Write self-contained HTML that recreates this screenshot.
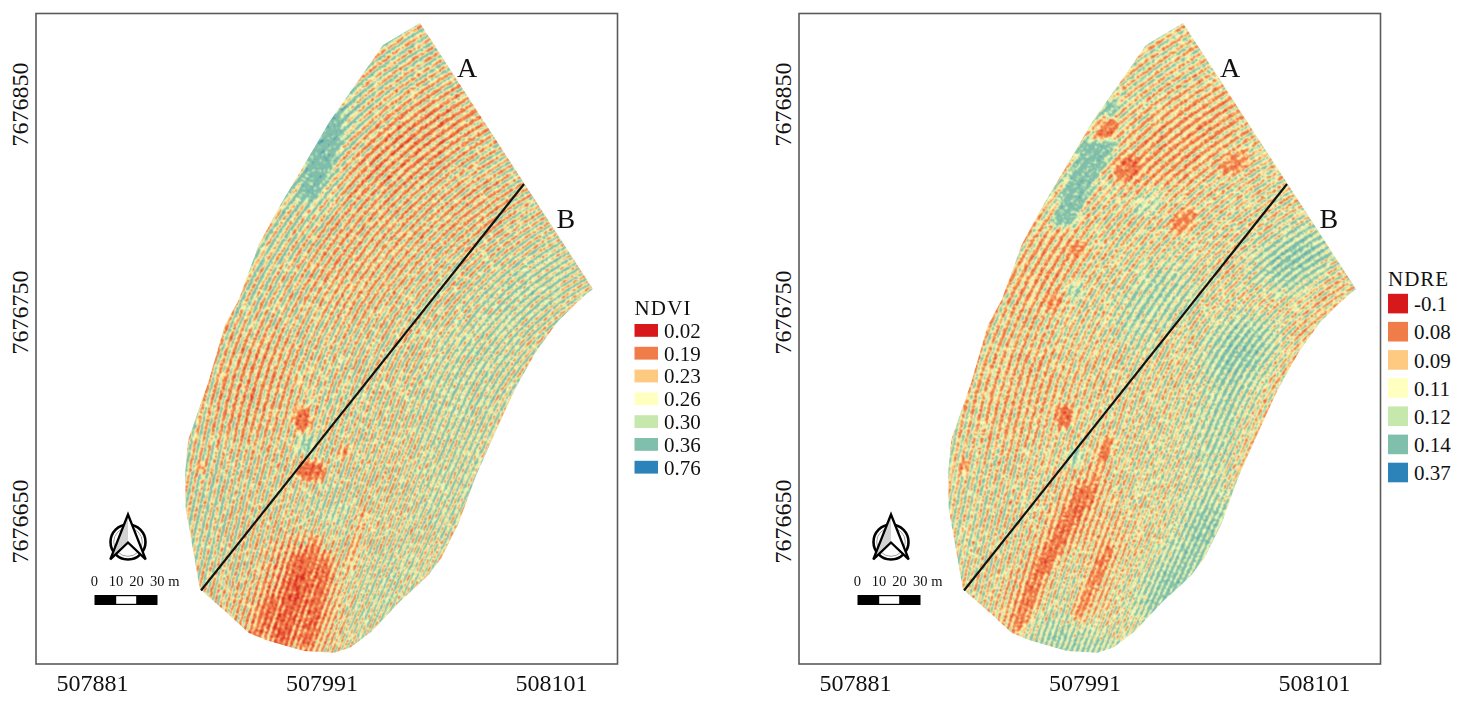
<!DOCTYPE html>
<html><head><meta charset="utf-8"><style>
html,body{margin:0;padding:0;background:#fff;width:1458px;height:701px;overflow:hidden}
svg{display:block}
text{font-family:"Liberation Serif",serif;fill:#111}
</style></head><body>
<svg width="1458" height="701" viewBox="0 0 1458 701">
<defs>
<path id="sd0" d="M942.4,461.6 938.5,448.2 933.7,435.0 928.1,422.2 921.8,409.7 914.7,397.6 906.9,386.0 898.4,374.9 889.3,364.3 879.5,354.3 869.1,344.9 858.2,336.2 846.7,328.1 834.8,320.7 822.5,314.1 809.8,308.3 796.7,303.2 783.4,298.9 769.8,295.5 756.1,292.9 742.2,291.1 728.2,290.2 714.2,290.1 700.2,290.9 686.3,292.5 672.6,295.0 659.0,298.3 645.6,302.4 632.5,307.3 619.7,313.1 607.3,319.5 595.3,326.8 583.8,334.7 572.8,343.3 562.3,352.6 552.4,362.5 543.1,373.0 534.5,384.1 526.6,395.6 519.4,407.6 512.9,420.0 495.5,456.0 478.1,492.0 460.7,528.1 443.3,564.1 425.9,600.1 408.5,636.1 391.2,672.1 373.8,708.2 356.4,744.2 339.0,780.2 321.6,816.2M943.7,445.1 938.9,432.0 933.3,419.2 926.9,406.7 919.8,394.6 912.0,383.0 903.6,371.9 894.5,361.2 884.8,351.2 874.4,341.7 863.6,332.8 852.2,324.7 840.4,317.2 828.2,310.4 815.6,304.3 802.6,299.0 789.3,294.5 775.9,290.8 762.2,287.9 748.3,285.8 734.4,284.5 720.4,284.1 706.4,284.5 692.4,285.7 678.6,287.8 664.9,290.6 651.4,294.3 638.1,298.8 625.1,304.0 612.5,310.0 600.2,316.8 588.4,324.2 577.0,332.4 566.1,341.2 555.8,350.6 546.0,360.7 536.9,371.3 528.4,382.4 520.6,394.0 513.5,406.0 507.1,418.5 489.8,454.6 472.6,490.7 455.4,526.8 438.2,562.9 421.0,599.0 403.8,635.1 386.6,671.2 369.4,707.3 352.1,743.4 334.9,779.6 317.7,815.7M944.0,428.8 938.4,416.0 932.0,403.6 924.9,391.5 917.1,379.9 908.7,368.7 899.6,358.0 890.0,347.9 879.7,338.4 868.9,329.4 857.7,321.1 845.9,313.5 833.8,306.6 821.2,300.3 808.4,294.8 795.2,290.1 781.8,286.1 768.1,283.0 754.3,280.6 740.4,279.0 726.4,278.2 712.5,278.2 698.5,279.1 684.6,280.7 670.8,283.2 657.2,286.4 643.8,290.5 630.6,295.3 617.8,300.8 605.3,307.1 593.1,314.1 581.4,321.8 570.2,330.1 559.5,339.1 549.3,348.7 539.6,358.8 530.6,369.5 522.2,380.8 514.5,392.4 507.5,404.5 501.1,417.0 484.1,453.2 467.1,489.4 450.1,525.6 433.0,561.8 416.0,598.0 399.0,634.2 381.9,670.4 364.9,706.6 347.9,742.8 330.8,779.0 313.8,815.1M943.5,412.7 937.0,400.3 929.9,388.2 922.2,376.6 913.7,365.4 904.7,354.7 895.1,344.5 884.9,334.9 874.2,325.9 863.0,317.5 851.3,309.8 839.2,302.7 826.8,296.3 814.0,290.6 800.9,285.7 787.5,281.5 774.0,278.1 760.2,275.4 746.4,273.5 732.4,272.4 718.4,272.1 704.4,272.6 690.5,273.9 676.6,275.9 662.9,278.8 649.4,282.4 636.1,286.8 623.1,291.9 610.3,297.7 598.0,304.2 586.0,311.5 574.4,319.4 563.3,327.9 552.7,337.1 542.7,346.8 533.2,357.1 524.3,367.9 516.0,379.2 508.4,390.9 501.4,403.1 495.2,415.6 478.3,451.9 461.5,488.2 444.6,524.4 427.8,560.7 410.9,597.0 394.1,633.3 377.3,669.6 360.4,705.8 343.6,742.1 326.7,778.4 309.9,814.7M942.0,396.8 934.9,384.8 927.1,373.1 918.7,361.9 909.7,351.2 900.1,341.0 890.0,331.4 879.3,322.3 868.2,313.8 856.6,306.0 844.6,298.8 832.2,292.2 819.5,286.4 806.5,281.3 793.2,276.9 779.7,273.2 766.0,270.3 752.2,268.1 738.2,266.7 724.2,266.1 710.2,266.3 696.3,267.2 682.4,268.9 668.6,271.3 655.0,274.5 641.5,278.5 628.4,283.2 615.4,288.6 602.9,294.7 590.6,301.5 578.8,309.0 567.4,317.1 556.4,325.8 546.0,335.1 536.0,345.0 526.7,355.4 517.9,366.3 509.7,377.7 502.2,389.5 495.3,401.7 489.2,414.2 472.5,450.6 455.8,487.0 439.2,523.3 422.5,559.7 405.8,596.1 389.2,632.4 372.5,668.8 355.9,705.1 339.2,741.5 322.5,777.9 305.9,814.2M939.8,381.2 932.1,369.6 923.6,358.4 914.7,347.6 905.1,337.4 895.0,327.7 884.4,318.6 873.3,310.0 861.8,302.1 849.9,294.8 837.5,288.1 824.9,282.1 811.9,276.8 798.7,272.2 785.3,268.3 771.6,265.2 757.8,262.8 743.9,261.1 730.0,260.2 716.0,260.0 702.0,260.6 688.1,262.0 674.2,264.1 660.5,266.9 647.0,270.5 633.6,274.8 620.6,279.8 607.8,285.5 595.3,291.8 583.2,298.9 571.5,306.6 560.2,314.9 549.4,323.8 539.1,333.2 529.3,343.2 520.1,353.7 511.4,364.7 503.4,376.2 496.0,388.1 489.2,400.3 483.1,412.9 466.6,449.4 450.1,485.8 433.7,522.3 417.2,558.7 400.7,595.2 384.2,631.6 367.8,668.1 351.3,704.5 334.8,741.0 318.3,777.4 301.8,813.9M936.9,365.8 928.5,354.6 919.5,343.9 910.0,333.7 899.9,323.9 889.4,314.7 878.3,306.1 866.9,298.1 855.0,290.7 842.8,283.9 830.2,277.8 817.3,272.3 804.1,267.5 790.7,263.5 777.1,260.1 763.4,257.4 749.5,255.5 735.6,254.3 721.6,253.9 707.6,254.2 693.6,255.2 679.7,256.9 666.0,259.4 652.3,262.6 638.9,266.5 625.7,271.2 612.7,276.5 600.1,282.4 587.7,289.1 575.8,296.3 564.2,304.2 553.1,312.7 542.4,321.8 532.2,331.4 522.6,341.5 513.5,352.2 504.9,363.3 497.0,374.8 489.7,386.7 483.0,399.0 476.9,411.6 460.7,448.2 444.4,484.7 428.1,521.2 411.8,557.8 395.5,594.3 379.2,630.8 362.9,667.4 346.6,703.9 330.4,740.4 314.1,777.0 297.8,813.5M933.3,350.8 924.3,340.0 914.8,329.8 904.8,320.0 894.2,310.8 883.3,302.1 871.8,294.0 860.0,286.5 847.8,279.6 835.3,273.3 822.5,267.7 809.4,262.8 796.1,258.6 782.5,255.0 768.8,252.1 755.0,250.0 741.1,248.5 727.1,247.8 713.1,247.8 699.1,248.5 685.2,250.0 671.3,252.1 657.6,255.0 644.1,258.5 630.8,262.8 617.7,267.7 604.8,273.3 592.3,279.5 580.1,286.4 568.3,293.9 556.9,302.0 545.9,310.7 535.3,319.9 525.3,329.7 515.8,339.9 506.8,350.7 498.4,361.8 490.5,373.4 483.3,385.4 476.7,397.8 470.7,410.4 454.6,447.0 438.5,483.7 422.5,520.3 406.4,556.9 390.3,593.5 374.2,630.1 358.1,666.8 342.0,703.4 325.9,740.0 309.8,776.6 293.7,813.2M929.0,336.0 919.5,325.8 909.5,316.0 899.0,306.7 888.1,298.0 876.7,289.8 865.0,282.2 852.8,275.2 840.4,268.9 827.6,263.1 814.5,258.1 801.3,253.6 787.8,249.9 774.1,246.8 760.3,244.5 746.4,242.8 732.5,241.8 718.5,241.5 704.5,242.0 690.5,243.1 676.6,244.9 662.9,247.5 649.2,250.7 635.8,254.6 622.6,259.1 609.6,264.4 596.9,270.2 584.5,276.7 572.4,283.9 560.7,291.6 549.5,299.9 538.6,308.7 528.2,318.1 518.3,328.0 508.9,338.4 500.1,349.2 491.8,360.5 484.0,372.1 476.9,384.2 470.4,396.6 464.5,409.3 448.6,446.0 432.7,482.7 416.8,519.4 400.9,556.1 385.0,592.8 369.1,629.5 353.2,666.2 337.2,702.9 321.3,739.6 305.4,776.3 289.5,813.0M924.2,321.6 914.2,311.8 903.7,302.5 892.8,293.7 881.5,285.5 869.8,277.9 857.7,270.8 845.3,264.3 832.6,258.5 819.6,253.3 806.3,248.7 792.9,244.8 779.3,241.5 765.5,239.0 751.6,237.1 737.7,235.8 723.7,235.3 709.7,235.5 695.7,236.3 681.8,237.9 668.0,240.1 654.3,243.0 640.8,246.5 627.4,250.8 614.3,255.6 601.4,261.2 588.9,267.3 576.6,274.0 564.7,281.4 553.1,289.3 542.0,297.8 531.3,306.8 521.0,316.3 511.3,326.4 502.0,336.9 493.3,347.8 485.1,359.2 477.5,370.9 470.4,383.0 464.0,395.4 458.2,408.2 442.5,444.9 426.8,481.7 411.0,518.5 395.3,555.3 379.6,592.1 363.9,628.9 348.2,665.7 332.5,702.4 316.8,739.2 301.1,776.0 285.3,812.8M918.8,307.5 908.3,298.2 897.5,289.4 886.2,281.1 874.5,273.4 862.4,266.3 850.1,259.7 837.4,253.8 824.5,248.4 811.3,243.7 797.9,239.6 784.3,236.2 770.6,233.5 756.8,231.3 742.8,229.9 728.9,229.2 714.9,229.1 700.9,229.6 686.9,230.9 673.1,232.8 659.3,235.4 645.7,238.7 632.2,242.6 619.0,247.1 606.0,252.3 593.2,258.1 580.8,264.5 568.7,271.5 556.9,279.0 545.5,287.2 534.5,295.8 523.9,305.0 513.8,314.7 504.2,324.8 495.0,335.4 486.4,346.5 478.3,357.9 470.8,369.7 463.9,381.9 457.5,394.3 451.8,407.1 436.3,444.0 420.8,480.9 405.3,517.7 389.7,554.6 374.2,591.5 358.7,628.3 343.2,665.2 327.7,702.1 312.1,738.9 296.6,775.8 281.1,812.7M912.9,293.8 902.0,284.9 890.7,276.6 879.1,268.9 867.1,261.6 854.8,255.0 842.1,249.0 829.2,243.5 816.1,238.7 802.8,234.5 789.2,230.9 775.5,227.9 761.7,225.6 747.8,224.0 733.9,223.0 719.9,222.7 705.9,223.0 691.9,224.0 678.0,225.7 664.2,228.0 650.5,230.9 637.0,234.5 623.6,238.8 610.5,243.6 597.6,249.1 585.0,255.1 572.7,261.8 560.7,269.0 549.0,276.8 537.8,285.1 526.9,293.9 516.5,303.3 506.5,313.1 497.0,323.4 488.0,334.1 479.5,345.2 471.6,356.7 464.1,368.6 457.3,380.8 451.0,393.3 445.4,406.1 430.1,443.1 414.7,480.0 399.4,517.0 384.1,553.9 368.8,590.9 353.5,627.8 338.1,664.8 322.8,701.7 307.5,738.7 292.2,775.6 276.8,812.6M906.4,280.3 895.2,272.0 883.6,264.2 871.6,256.9 859.3,250.2 846.8,244.1 833.9,238.5 820.8,233.6 807.5,229.2 794.0,225.5 780.4,222.4 766.6,219.9 752.7,218.1 738.7,216.9 724.8,216.4 710.8,216.5 696.8,217.2 682.9,218.6 669.0,220.7 655.3,223.3 641.7,226.6 628.2,230.6 615.0,235.1 602.0,240.2 589.2,246.0 576.7,252.3 564.5,259.2 552.7,266.6 541.2,274.6 530.0,283.1 519.3,292.1 509.0,301.6 499.2,311.6 489.8,322.0 480.9,332.8 472.6,344.0 464.7,355.6 457.4,367.5 450.7,379.8 444.5,392.4 438.9,405.2 423.8,442.2 408.6,479.3 393.5,516.3 378.4,553.3 363.3,590.4 348.2,627.4 333.0,664.4 317.9,701.4 302.8,738.5 287.7,775.5 272.5,812.5M899.6,267.3 888.0,259.4 876.0,252.1 863.8,245.3 851.2,239.1 838.4,233.5 825.4,228.4 812.1,224.0 798.7,220.1 785.0,216.9 771.3,214.2 757.4,212.2 743.5,210.9 729.5,210.1 715.5,210.0 701.5,210.5 687.6,211.7 673.7,213.4 659.9,215.8 646.2,218.9 632.7,222.5 619.4,226.7 606.2,231.6 593.3,237.0 580.7,243.0 568.3,249.6 556.3,256.7 544.6,264.4 533.2,272.5 522.2,281.2 511.6,290.4 501.5,300.0 491.8,310.1 482.5,320.6 473.8,331.6 465.5,342.9 457.8,354.5 450.6,366.5 443.9,378.9 437.9,391.5 432.3,404.3 417.4,441.4 402.5,478.6 387.6,515.7 372.7,552.8 357.7,589.9 342.8,627.0 327.9,664.1 313.0,701.2 298.0,738.3 283.1,775.5 268.2,812.6M892.3,254.5 880.4,247.2 868.1,240.3 855.6,234.1 842.8,228.3 829.8,223.2 816.6,218.6 803.2,214.7 789.6,211.3 775.9,208.5 762.0,206.3 748.1,204.8 734.2,203.8 720.2,203.5 706.2,203.8 692.2,204.8 678.3,206.3 664.4,208.4 650.7,211.2 637.1,214.6 623.7,218.5 610.5,223.1 597.5,228.2 584.7,233.9 572.1,240.2 559.9,247.0 548.0,254.3 536.4,262.2 525.2,270.6 514.4,279.4 503.9,288.8 493.9,298.6 484.3,308.8 475.2,319.4 466.6,330.4 458.5,341.8 450.8,353.5 443.7,365.6 437.2,378.0 431.2,390.6 425.7,403.5 411.0,440.7 396.3,477.9 381.6,515.1 366.9,552.3 352.1,589.5 337.4,626.7 322.7,663.9 308.0,701.1 293.2,738.3 278.5,775.5 263.8,812.6M884.6,242.1 872.4,235.3 859.9,228.9 847.1,223.1 834.1,217.9 820.9,213.2 807.6,209.1 794.0,205.6 780.3,202.7 766.5,200.4 752.6,198.7 738.7,197.6 724.7,197.1 710.7,197.2 696.7,197.9 682.8,199.2 668.9,201.1 655.1,203.6 641.5,206.7 628.0,210.4 614.6,214.7 601.5,219.6 588.6,225.0 575.9,231.0 563.5,237.5 551.4,244.5 539.7,252.1 528.2,260.2 517.1,268.7 506.4,277.7 496.1,287.2 486.3,297.1 476.8,307.5 467.9,318.2 459.3,329.3 451.3,340.8 443.8,352.6 436.8,364.8 430.4,377.2 424.4,389.9 419.1,402.8 404.6,440.1 390.0,477.3 375.5,514.6 361.0,551.9 346.5,589.1 332.0,626.4 317.4,663.7 302.9,701.0 288.4,738.2 273.9,775.5 259.4,812.8M876.5,230.1 864.0,223.7 851.3,217.8 838.3,212.5 825.2,207.8 811.8,203.6 798.3,200.0 784.6,196.9 770.8,194.5 757.0,192.6 743.0,191.3 729.0,190.7 715.0,190.6 701.1,191.1 687.1,192.2 673.2,193.9 659.4,196.2 645.7,199.0 632.1,202.5 618.7,206.5 605.5,211.1 592.5,216.2 579.7,221.9 567.1,228.1 554.9,234.9 542.9,242.2 531.3,249.9 520.0,258.2 509.0,266.9 498.5,276.1 488.3,285.8 478.6,295.8 469.3,306.3 460.4,317.1 452.0,328.3 444.1,339.9 436.7,351.8 429.8,364.0 423.5,376.4 417.6,389.1 412.4,402.1 398.0,439.5 383.7,476.8 369.4,514.2 355.1,551.5 340.8,588.9 326.5,626.2 312.2,663.6 297.8,700.9 283.5,738.3 269.2,775.6 254.9,813.0"/><path id="sl0" d="M941.6,468.2 938.0,454.7 933.6,441.4 928.4,428.5 922.4,415.8 915.6,403.6 908.1,391.8 899.8,380.5 890.9,369.7 881.3,359.4 871.2,349.8 860.4,340.9 849.1,332.6 837.4,325.0 825.2,318.1 812.6,312.1 799.6,306.8 786.3,302.3 772.8,298.6 759.1,295.8 745.3,293.8 731.3,292.7 717.3,292.4 703.3,293.0 689.4,294.5 675.6,296.8 662.0,299.9 648.5,303.9 635.4,308.7 622.6,314.3 610.1,320.7 598.1,327.8 586.5,335.7 575.4,344.2 564.9,353.4 554.9,363.3 545.6,373.7 536.9,384.7 529.0,396.2 521.7,408.2 515.2,420.6 497.8,456.6 480.3,492.6 462.8,528.6 445.4,564.6 427.9,600.5 410.4,636.5 393.0,672.5 375.5,708.5 358.0,744.5 340.6,780.5 323.1,816.5M943.3,451.7 938.8,438.5 933.6,425.5 927.5,412.9 920.7,400.6 913.2,388.8 905.0,377.5 896.1,366.7 886.6,356.4 876.5,346.7 865.9,337.6 854.7,329.2 843.0,321.5 830.9,314.5 818.4,308.2 805.5,302.7 792.3,298.0 778.9,294.0 765.2,290.9 751.4,288.6 737.5,287.1 723.5,286.5 709.5,286.7 695.6,287.8 681.7,289.6 668.0,292.3 654.4,295.9 641.1,300.2 628.1,305.3 615.4,311.2 603.1,317.9 591.2,325.2 579.7,333.3 568.8,342.0 558.4,351.4 548.6,361.4 539.4,372.0 530.9,383.0 523.0,394.6 515.8,406.6 509.4,419.1 492.1,455.2 474.8,491.2 457.5,527.3 440.3,563.4 423.0,599.4 405.7,635.5 388.4,671.6 371.1,707.7 353.8,743.7 336.6,779.8 319.3,815.9M944.0,435.3 938.7,422.4 932.6,409.8 925.8,397.5 918.3,385.7 910.1,374.4 901.3,363.5 891.8,353.2 881.8,343.4 871.2,334.3 860.1,325.8 848.5,317.9 836.5,310.8 824.0,304.3 811.3,298.6 798.2,293.6 784.8,289.5 771.2,286.1 757.5,283.5 743.6,281.7 729.6,280.7 715.6,280.6 701.7,281.2 687.7,282.7 673.9,285.0 660.3,288.1 646.8,292.0 633.6,296.6 620.7,302.1 608.2,308.2 596.0,315.1 584.2,322.7 572.9,331.0 562.1,339.9 551.9,349.4 542.2,359.6 533.1,370.2 524.7,381.4 516.9,393.0 509.9,405.1 503.5,417.6 486.4,453.8 469.3,489.9 452.2,526.1 435.1,562.2 418.0,598.4 400.9,634.6 383.8,670.7 366.7,706.9 349.6,743.0 332.5,779.2 315.4,815.3M943.8,419.1 937.7,406.5 930.9,394.3 923.3,382.5 915.2,371.1 906.4,360.2 897.0,349.9 887.0,340.1 876.5,330.8 865.4,322.2 853.9,314.3 842.0,307.0 829.6,300.4 816.9,294.5 803.9,289.3 790.6,284.9 777.1,281.3 763.4,278.4 749.6,276.3 735.6,275.0 721.6,274.5 707.6,274.8 693.7,275.9 679.8,277.8 666.1,280.5 652.5,284.0 639.2,288.2 626.1,293.2 613.3,298.9 600.9,305.4 588.8,312.5 577.2,320.3 566.1,328.8 555.4,337.9 545.3,347.5 535.8,357.8 526.8,368.5 518.5,379.8 510.8,391.5 503.9,403.7 497.6,416.2 480.7,452.4 463.7,488.7 446.8,524.9 429.9,561.1 413.0,597.4 396.1,633.6 379.1,669.9 362.2,706.1 345.3,742.4 328.4,778.6 311.4,814.9M942.7,403.1 935.9,390.9 928.3,379.1 920.2,367.8 911.4,356.8 902.0,346.5 892.1,336.6 881.6,327.3 870.6,318.6 859.2,310.5 847.3,303.1 835.1,296.4 822.5,290.3 809.5,285.0 796.3,280.4 782.8,276.5 769.2,273.4 755.4,271.0 741.5,269.4 727.5,268.6 713.5,268.6 699.5,269.3 685.6,270.9 671.8,273.2 658.2,276.2 644.7,280.0 631.5,284.6 618.5,289.9 605.9,295.9 593.6,302.6 581.7,310.0 570.2,318.0 559.2,326.6 548.7,335.9 538.7,345.7 529.3,356.1 520.5,366.9 512.2,378.3 504.7,390.0 497.8,402.2 491.6,414.8 474.8,451.1 458.1,487.4 441.4,523.8 424.6,560.1 407.9,596.4 391.2,632.8 374.4,669.1 357.7,705.4 340.9,741.7 324.2,778.1 307.5,814.4M940.8,387.4 933.3,375.6 925.1,364.2 916.4,353.3 907.0,342.9 897.1,333.0 886.7,323.6 875.8,314.9 864.4,306.7 852.6,299.2 840.4,292.3 827.9,286.1 815.0,280.6 801.8,275.8 788.5,271.7 774.9,268.3 761.1,265.7 747.2,263.9 733.3,262.8 719.3,262.4 705.3,262.9 691.4,264.0 677.5,266.0 663.7,268.7 650.2,272.1 636.8,276.2 623.7,281.1 610.9,286.7 598.3,293.0 586.2,299.9 574.4,307.5 563.1,315.7 552.2,324.6 541.9,334.0 532.0,343.9 522.7,354.4 514.0,365.4 505.9,376.8 498.5,388.6 491.7,400.8 485.5,413.4 469.0,449.8 452.4,486.3 435.9,522.7 419.3,559.1 402.8,595.5 386.2,631.9 369.7,668.3 353.1,704.8 336.6,741.2 320.0,777.6 303.5,814.0M938.2,371.9 930.0,360.6 921.2,349.6 911.9,339.2 902.1,329.3 891.7,319.9 880.8,311.1 869.5,302.8 857.8,295.2 845.6,288.2 833.2,281.8 820.4,276.2 807.3,271.2 793.9,266.9 780.4,263.3 766.7,260.5 752.9,258.4 738.9,257.0 725.0,256.4 711.0,256.5 697.0,257.3 683.1,258.9 669.3,261.3 655.6,264.3 642.1,268.1 628.9,272.6 615.9,277.8 603.2,283.6 590.8,290.2 578.8,297.4 567.1,305.2 556.0,313.6 545.2,322.6 535.0,332.1 525.3,342.2 516.1,352.8 507.5,363.8 499.6,375.3 492.2,387.2 485.5,399.5 479.4,412.1 463.0,448.6 446.7,485.1 430.3,521.6 414.0,558.1 397.6,594.6 381.2,631.1 364.9,667.6 348.5,704.1 332.1,740.6 315.8,777.1 299.4,813.6M934.8,356.8 926.1,345.8 916.8,335.4 906.9,325.4 896.6,316.0 885.8,307.1 874.5,298.8 862.8,291.1 850.7,284.0 838.3,277.5 825.6,271.7 812.6,266.6 799.3,262.1 785.8,258.3 772.2,255.3 758.4,252.9 744.5,251.3 730.5,250.4 716.5,250.2 702.5,250.8 688.6,252.0 674.7,254.0 661.0,256.7 647.4,260.1 634.0,264.3 620.9,269.1 608.0,274.5 595.4,280.7 583.2,287.5 571.3,294.9 559.8,302.9 548.8,311.5 538.2,320.7 528.1,330.4 518.5,340.6 509.5,351.3 501.0,362.4 493.1,374.0 485.9,385.9 479.2,398.3 473.2,410.9 457.1,447.5 440.9,484.1 424.7,520.7 408.5,557.2 392.4,593.8 376.2,630.4 360.0,667.0 343.8,703.6 327.7,740.2 311.5,776.8 295.3,813.3M930.8,341.9 921.5,331.4 911.7,321.5 901.4,312.0 890.6,303.1 879.4,294.7 867.8,286.9 855.7,279.7 843.4,273.1 830.7,267.2 817.8,261.9 804.5,257.3 791.1,253.3 777.5,250.1 763.7,247.5 749.9,245.6 735.9,244.5 721.9,244.0 707.9,244.3 694.0,245.2 680.1,246.9 666.3,249.3 652.6,252.4 639.1,256.1 625.8,260.6 612.8,265.7 600.1,271.4 587.6,277.8 575.5,284.9 563.8,292.5 552.4,300.7 541.5,309.5 531.1,318.8 521.1,328.6 511.7,339.0 502.8,349.8 494.4,361.0 486.6,372.6 479.5,384.7 472.9,397.0 467.0,409.7 451.0,446.4 435.0,483.1 419.1,519.7 403.1,556.4 387.1,593.1 371.1,629.7 355.1,666.4 339.1,703.1 323.2,739.7 307.2,776.4 291.2,813.1M926.2,327.3 916.4,317.3 906.1,307.9 895.4,298.9 884.2,290.5 872.6,282.6 860.6,275.3 848.3,268.7 835.7,262.6 822.8,257.2 809.6,252.4 796.3,248.3 782.7,244.8 769.0,242.1 755.1,240.0 741.2,238.6 727.2,237.9 713.2,237.9 699.2,238.6 685.3,239.9 671.5,242.0 657.7,244.7 644.2,248.2 630.8,252.3 617.6,257.0 604.7,262.4 592.1,268.5 579.8,275.1 567.8,282.4 556.2,290.2 545.0,298.6 534.2,307.6 523.9,317.0 514.1,327.0 504.8,337.5 496.0,348.4 487.8,359.7 480.1,371.4 473.0,383.5 466.6,395.9 460.7,408.6 444.9,445.4 429.1,482.1 413.3,518.9 397.5,555.6 381.8,592.4 366.0,629.1 350.2,665.9 334.4,702.6 318.6,739.4 302.8,776.1 287.0,812.9M921.0,313.1 910.7,303.6 900.0,294.6 888.9,286.1 877.3,278.2 865.4,270.9 853.2,264.1 840.6,257.9 827.7,252.4 814.6,247.5 801.3,243.2 787.8,239.6 774.1,236.6 760.3,234.4 746.4,232.7 732.4,231.8 718.4,231.5 704.4,232.0 690.5,233.0 676.6,234.8 662.8,237.3 649.1,240.4 635.7,244.1 622.4,248.6 609.3,253.6 596.5,259.3 584.0,265.6 571.8,272.5 560.0,280.0 548.6,288.0 537.5,296.6 526.9,305.7 516.7,315.3 507.0,325.4 497.8,336.0 489.2,347.0 481.0,358.4 473.5,370.2 466.5,382.3 460.1,394.8 454.4,407.5 438.8,444.4 423.2,481.2 407.6,518.0 392.0,554.9 376.4,591.7 360.8,628.5 345.2,665.4 329.6,702.2 314.0,739.0 298.4,775.9 282.8,812.7M915.3,299.2 904.6,290.2 893.5,281.7 882.0,273.7 870.1,266.3 857.9,259.5 845.4,253.2 832.5,247.6 819.5,242.5 806.2,238.1 792.7,234.3 779.1,231.2 765.3,228.7 751.4,226.9 737.5,225.8 723.5,225.3 709.5,225.4 695.5,226.3 681.6,227.7 667.8,229.9 654.0,232.7 640.5,236.2 627.1,240.3 613.9,245.0 601.0,250.3 588.3,256.3 575.9,262.8 563.9,270.0 552.2,277.7 540.9,285.9 530.0,294.7 519.5,303.9 509.4,313.7 499.9,323.9 490.8,334.6 482.3,345.7 474.3,357.2 466.8,369.0 459.9,381.2 453.7,393.7 448.0,406.5 432.6,443.4 417.2,480.4 401.8,517.3 386.4,554.2 371.0,591.1 355.6,628.0 340.2,664.9 324.8,701.9 309.4,738.8 294.0,775.7 278.6,812.6M909.1,285.7 898.0,277.1 886.5,269.1 874.7,261.7 862.5,254.7 850.0,248.4 837.2,242.7 824.2,237.5 811.0,233.0 797.5,229.1 783.9,225.8 770.2,223.1 756.3,221.1 742.4,219.7 728.4,219.0 714.4,218.9 700.4,219.5 686.5,220.8 672.6,222.7 658.8,225.2 645.2,228.3 631.7,232.1 618.4,236.5 605.4,241.6 592.6,247.2 580.0,253.4 567.8,260.2 555.9,267.6 544.3,275.5 533.1,283.9 522.4,292.8 512.0,302.3 502.1,312.2 492.7,322.5 483.8,333.3 475.3,344.5 467.5,356.0 460.1,368.0 453.3,380.2 447.1,392.7 441.5,405.6 426.3,442.6 411.1,479.6 395.9,516.6 380.7,553.6 365.5,590.6 350.3,627.6 335.1,664.6 319.9,701.6 304.7,738.6 289.5,775.6 274.3,812.5M902.4,272.4 890.9,264.4 879.1,256.9 867.0,249.9 854.5,243.5 841.8,237.7 828.8,232.4 815.6,227.8 802.2,223.7 788.6,220.3 774.9,217.5 761.1,215.3 747.2,213.7 733.2,212.8 719.2,212.5 705.2,212.9 691.3,213.9 677.4,215.5 663.6,217.7 649.9,220.6 636.3,224.1 622.9,228.2 609.7,233.0 596.8,238.3 584.1,244.2 571.7,250.7 559.6,257.7 547.8,265.3 536.4,273.4 525.4,282.0 514.7,291.1 504.5,300.7 494.8,310.7 485.5,321.2 476.7,332.0 468.4,343.3 460.6,355.0 453.3,366.9 446.6,379.2 440.5,391.8 435.0,404.7 420.0,441.8 405.0,478.8 390.0,515.9 375.0,553.0 360.0,590.1 345.0,627.2 329.9,664.2 314.9,701.3 299.9,738.4 284.9,775.5 269.9,812.6M895.2,259.6 883.5,252.0 871.3,245.0 858.9,238.5 846.2,232.6 833.3,227.3 820.1,222.5 806.8,218.3 793.2,214.8 779.6,211.8 765.8,209.5 751.9,207.7 737.9,206.6 723.9,206.1 709.9,206.3 695.9,207.0 682.0,208.4 668.2,210.4 654.4,213.0 640.8,216.3 627.3,220.1 614.0,224.5 601.0,229.5 588.1,235.1 575.6,241.3 563.3,248.0 551.3,255.3 539.7,263.1 528.4,271.4 517.5,280.1 507.0,289.4 497.0,299.1 487.3,309.3 478.2,319.9 469.5,330.9 461.3,342.2 453.6,353.9 446.5,366.0 439.9,378.3 433.9,391.0 428.4,403.8 413.6,441.0 398.8,478.2 384.0,515.3 369.2,552.5 354.4,589.6 339.6,626.8 324.8,664.0 310.0,701.1 295.2,738.3 280.4,775.4 265.6,812.6M887.7,247.0 875.6,240.0 863.2,233.4 850.6,227.5 837.7,222.0 824.5,217.2 811.2,212.9 797.7,209.2 784.0,206.1 770.3,203.6 756.4,201.7 742.5,200.4 728.5,199.8 714.5,199.7 700.5,200.2 686.5,201.4 672.7,203.2 658.9,205.5 645.2,208.5 631.6,212.1 618.3,216.2 605.1,221.0 592.1,226.3 579.4,232.1 567.0,238.5 554.8,245.5 543.0,253.0 531.5,261.0 520.4,269.4 509.6,278.4 499.3,287.8 489.3,297.7 479.8,308.0 470.8,318.7 462.3,329.8 454.2,341.2 446.6,353.0 439.6,365.1 433.1,377.5 427.1,390.2 421.7,403.1 407.1,440.3 392.5,477.6 377.9,514.8 363.3,552.0 348.8,589.3 334.2,626.5 319.6,663.8 305.0,701.0 290.4,738.2 275.8,775.5 261.2,812.7M879.8,234.8 867.4,228.3 854.8,222.2 841.9,216.7 828.8,211.8 815.5,207.4 802.0,203.6 788.4,200.4 774.7,197.8 760.8,195.7 746.9,194.3 732.9,193.4 718.9,193.2 704.9,193.5 690.9,194.4 677.0,196.0 663.2,198.1 649.5,200.9 635.9,204.2 622.4,208.1 609.2,212.5 596.1,217.5 583.3,223.1 570.7,229.3 558.4,235.9 546.3,243.1 534.6,250.8 523.3,259.0 512.3,267.6 501.7,276.8 491.5,286.3 481.7,296.3 472.3,306.7 463.4,317.6 455.0,328.7 447.0,340.2 439.6,352.1 432.6,364.3 426.2,376.7 420.4,389.4 415.0,402.4 400.7,439.7 386.3,477.0 371.9,514.3 357.5,551.7 343.1,589.0 328.7,626.3 314.3,663.6 299.9,700.9 285.5,738.3 271.1,775.6 256.7,812.9"/><path id="sd1" d="M868.0,218.3 855.3,212.4 842.4,207.1 829.3,202.2 815.9,198.0 802.4,194.3 788.8,191.1 775.0,188.5 761.2,186.5 747.3,185.1 733.3,184.2 719.3,184.0 705.3,184.3 691.3,185.2 677.4,186.7 663.6,188.8 649.8,191.4 636.2,194.6 622.7,198.4 609.4,202.7 596.3,207.6 583.4,213.0 570.7,219.0 558.3,225.5 546.2,232.4 534.3,239.9 522.8,247.9 511.7,256.4 500.9,265.3 490.4,274.6 480.4,284.4 470.8,294.6 461.6,305.1 452.9,316.1 444.7,327.4 436.9,339.0 429.6,351.0 422.8,363.2 416.5,375.7 410.8,388.5 405.6,401.5 391.5,438.9 377.4,476.4 363.3,513.8 349.1,551.2 335.0,588.7 320.9,626.1 306.8,663.5 292.7,700.9 278.6,738.4 264.5,775.8 250.4,813.2M859.3,207.0 846.3,201.5 833.2,196.6 819.9,192.3 806.5,188.5 792.8,185.2 779.1,182.5 765.3,180.4 751.4,178.8 737.4,177.8 723.4,177.4 709.4,177.6 695.4,178.3 681.5,179.6 667.6,181.4 653.8,183.8 640.1,186.8 626.6,190.4 613.2,194.5 600.0,199.1 587.0,204.3 574.2,210.0 561.7,216.2 549.4,222.9 537.4,230.1 525.7,237.8 514.3,246.0 503.3,254.6 492.6,263.7 482.4,273.2 472.5,283.1 463.0,293.4 454.0,304.1 445.4,315.2 437.2,326.5 429.6,338.3 422.4,350.3 415.7,362.6 409.5,375.1 403.9,387.9 398.7,401.0 384.8,438.5 370.9,476.0 357.0,513.5 343.1,551.0 329.2,588.5 315.3,626.0 301.4,663.5 287.6,701.0 273.7,738.5 259.8,776.0 245.9,813.6M850.2,195.9 837.1,191.0 823.8,186.5 810.3,182.6 796.7,179.3 783.0,176.5 769.2,174.2 755.3,172.5 741.4,171.4 727.4,170.8 713.4,170.8 699.4,171.4 685.4,172.5 671.5,174.1 657.7,176.4 644.0,179.1 630.4,182.4 616.9,186.3 603.6,190.7 590.5,195.6 577.6,201.1 565.0,207.0 552.6,213.5 540.4,220.5 528.6,227.9 517.0,235.8 505.8,244.2 494.9,253.0 484.4,262.2 474.2,271.9 464.5,281.9 455.1,292.3 446.2,303.1 437.8,314.3 429.7,325.8 422.2,337.5 415.1,349.6 408.5,362.0 402.5,374.6 396.9,387.4 391.8,400.5 378.1,438.1 364.5,475.7 350.8,513.2 337.1,550.8 323.4,588.4 309.7,626.0 296.0,663.6 282.3,701.2 268.6,738.8 255.0,776.3 241.3,813.9M840.8,185.2 827.5,180.7 814.1,176.7 800.5,173.3 786.8,170.4 773.0,168.0 759.1,166.2 745.2,165.0 731.2,164.3 717.2,164.1 703.2,164.5 689.3,165.4 675.3,166.9 661.5,168.9 647.7,171.5 634.1,174.6 620.6,178.2 607.2,182.4 594.0,187.1 581.0,192.3 568.2,198.1 555.7,204.3 543.4,211.0 531.4,218.2 519.7,225.8 508.3,233.9 497.2,242.5 486.4,251.4 476.0,260.8 466.0,270.6 456.4,280.8 447.2,291.4 438.4,302.3 430.1,313.5 422.2,325.1 414.8,336.9 407.8,349.1 401.3,361.5 395.3,374.1 389.9,387.0 384.9,400.1 371.4,437.8 357.9,475.4 344.5,513.1 331.0,550.7 317.5,588.4 304.0,626.1 290.6,663.7 277.1,701.4 263.6,739.0 250.1,776.7 236.6,814.4M831.1,174.8 817.7,170.8 804.1,167.2 790.5,164.3 776.7,161.8 762.8,159.9 748.9,158.5 734.9,157.7 720.9,157.4 706.9,157.6 692.9,158.4 679.0,159.7 665.1,161.5 651.3,163.9 637.6,166.8 624.1,170.3 610.6,174.2 597.4,178.7 584.3,183.7 571.4,189.2 558.8,195.2 546.3,201.6 534.2,208.6 522.3,216.0 510.7,223.8 499.4,232.1 488.5,240.9 477.9,250.0 467.7,259.5 457.8,269.5 448.3,279.8 439.2,290.5 430.6,301.5 422.4,312.8 414.6,324.4 407.3,336.4 400.4,348.6 394.1,361.0 388.2,373.7 382.8,386.6 377.9,399.8 364.6,437.5 351.3,475.2 338.1,513.0 324.8,550.7 311.6,588.5 298.3,626.2 285.0,663.9 271.8,701.7 258.5,739.4 245.2,777.1 232.0,814.9M821.2,164.7 807.6,161.1 794.0,158.1 780.2,155.5 766.3,153.5 752.4,152.0 738.5,151.1 724.5,150.6 710.5,150.7 696.5,151.3 682.5,152.5 668.6,154.2 654.8,156.4 641.1,159.1 627.5,162.4 614.0,166.1 600.6,170.4 587.5,175.2 574.5,180.4 561.8,186.2 549.2,192.4 536.9,199.1 524.9,206.3 513.2,213.9 501.7,222.0 490.6,230.5 479.8,239.4 469.3,248.7 459.2,258.4 449.5,268.4 440.1,278.9 431.2,289.6 422.7,300.7 414.6,312.2 406.9,323.9 399.7,335.9 393.0,348.2 386.7,360.7 380.9,373.4 375.6,386.4 370.8,399.5 357.7,437.3 344.7,475.1 331.7,513.0 318.6,550.8 305.6,588.6 292.5,626.4 279.5,664.2 266.4,702.0 253.4,739.8 240.3,777.6 227.3,815.5M811.0,154.9 797.3,151.8 783.6,149.2 769.7,147.1 755.8,145.5 741.9,144.4 727.9,143.9 713.9,143.8 699.9,144.3 685.9,145.3 672.0,146.9 658.2,148.9 644.4,151.5 630.7,154.5 617.2,158.1 603.8,162.2 590.6,166.7 577.5,171.8 564.7,177.3 552.0,183.4 539.6,189.8 527.5,196.8 515.6,204.2 504.0,212.0 492.7,220.2 481.7,228.9 471.0,238.0 460.7,247.4 450.7,257.3 441.1,267.5 431.9,278.0 423.1,288.9 414.7,300.1 406.8,311.6 399.2,323.4 392.1,335.5 385.5,347.8 379.3,360.4 373.6,373.2 368.4,386.2 363.7,399.3 350.8,437.2 338.0,475.1 325.2,513.0 312.3,550.9 299.5,588.8 286.7,626.7 273.9,664.5 261.0,702.4 248.2,740.3 235.4,778.2 222.5,816.1M800.5,145.5 786.8,142.8 773.0,140.6 759.1,138.9 745.1,137.8 731.1,137.1 717.1,136.9 703.2,137.3 689.2,138.2 675.2,139.6 661.4,141.5 647.6,143.8 633.9,146.7 620.3,150.1 606.9,154.0 593.6,158.4 580.4,163.3 567.5,168.6 554.8,174.4 542.2,180.7 530.0,187.4 517.9,194.6 506.2,202.2 494.7,210.2 483.5,218.6 472.7,227.5 462.2,236.7 452.0,246.3 442.2,256.3 432.7,266.6 423.6,277.3 415.0,288.3 406.7,299.6 398.9,311.2 391.4,323.1 384.5,335.2 377.9,347.6 371.9,360.2 366.3,373.0 361.1,386.0 356.5,399.2 343.9,437.2 331.3,475.2 318.6,513.1 306.0,551.1 293.4,589.0 280.8,627.0 268.2,665.0 255.6,702.9 243.0,740.9 230.4,778.8 217.8,816.8M789.9,136.4 776.1,134.1 762.2,132.3 748.2,131.1 734.3,130.3 720.3,130.0 706.3,130.3 692.3,131.0 678.3,132.3 664.5,134.0 650.6,136.3 636.9,139.0 623.3,142.2 609.8,145.9 596.4,150.1 583.2,154.8 570.2,160.0 557.4,165.6 544.8,171.6 532.4,178.1 520.2,185.1 508.3,192.5 496.7,200.3 485.4,208.5 474.4,217.1 463.6,226.2 453.3,235.5 443.2,245.3 433.5,255.4 424.2,265.9 415.3,276.6 406.8,287.7 398.6,299.1 390.9,310.8 383.6,322.8 376.7,335.0 370.3,347.4 364.4,360.1 358.8,372.9 353.8,386.0 349.2,399.2 336.8,437.3 324.4,475.3 312.1,513.3 299.7,551.4 287.3,589.4 274.9,627.4 262.5,665.4 250.1,703.5 237.7,741.5 225.3,779.5 212.9,817.6M779.0,127.5 765.1,125.7 751.2,124.3 737.2,123.5 723.2,123.1 709.2,123.3 695.3,123.9 681.3,125.0 667.4,126.6 653.5,128.7 639.8,131.3 626.1,134.4 612.6,137.9 599.2,141.9 585.9,146.4 572.8,151.4 559.9,156.8 547.2,162.7 534.7,169.0 522.5,175.8 510.4,182.9 498.7,190.5 487.2,198.6 476.0,207.0 465.1,215.8 454.6,224.9 444.3,234.5 434.4,244.4 424.9,254.6 415.7,265.2 406.9,276.1 398.5,287.3 390.5,298.8 382.9,310.5 375.7,322.5 369.0,334.8 362.7,347.3 356.8,360.0 351.4,372.9 346.4,386.0 341.9,399.3 329.8,437.4 317.6,475.5 305.4,513.6 293.3,551.7 281.1,589.8 268.9,627.9 256.8,666.0 244.6,704.1 232.4,742.2 220.3,780.3 208.1,818.4M767.9,119.0 754.0,117.6 740.0,116.6 726.1,116.2 712.1,116.2 698.1,116.7 684.1,117.7 670.2,119.2 656.3,121.2 642.5,123.6 628.8,126.6 615.3,130.0 601.8,133.8 588.5,138.1 575.3,142.9 562.4,148.2 549.6,153.9 537.0,160.0 524.6,166.5 512.5,173.5 500.6,180.9 489.0,188.7 477.6,196.9 466.6,205.5 455.8,214.5 445.4,223.8 435.3,233.5 425.6,243.6 416.1,254.0 407.1,264.6 398.4,275.6 390.2,286.9 382.3,298.5 374.8,310.3 367.8,322.4 361.1,334.8 354.9,347.3 349.2,360.1 343.8,373.0 339.0,386.1 334.6,399.4 322.6,437.6 310.7,475.8 298.7,514.0 286.8,552.1 274.8,590.3 262.9,628.5 251.0,666.7 239.0,704.8 227.1,743.0 215.1,781.2 203.2,819.4M756.7,110.8 742.7,109.7 728.7,109.2 714.7,109.1 700.7,109.6 686.8,110.5 672.8,111.8 658.9,113.7 645.1,116.0 631.4,118.8 617.8,122.0 604.3,125.7 590.9,129.9 577.7,134.5 564.7,139.6 551.8,145.1 539.1,151.1 526.7,157.4 514.4,164.2 502.4,171.4 490.7,179.1 479.2,187.1 468.0,195.5 457.1,204.2 446.5,213.4 436.2,222.9 426.2,232.7 416.6,242.9 407.4,253.4 398.5,264.2 389.9,275.3 381.8,286.7 374.0,298.3 366.7,310.2 359.7,322.4 353.2,334.8 347.1,347.4 341.5,360.2 336.2,373.2 331.5,386.3 327.1,399.7 315.4,437.9 303.7,476.1 292.0,514.4 280.3,552.6 268.6,590.9 256.8,629.1 245.1,667.4 233.4,705.6 221.7,743.9 210.0,782.1 198.3,820.4M745.2,102.8 731.2,102.2 717.2,102.1 703.2,102.4 689.3,103.2 675.3,104.4 661.4,106.2 647.6,108.4 633.9,111.0 620.2,114.1 606.7,117.7 593.3,121.7 580.0,126.2 566.9,131.1 553.9,136.5 541.2,142.2 528.6,148.4 516.3,155.0 504.2,162.1 492.3,169.5 480.7,177.3 469.4,185.5 458.3,194.1 447.5,203.1 437.1,212.4 426.9,222.0 417.1,232.0 407.7,242.3 398.5,252.9 389.8,263.8 381.4,275.0 373.4,286.5 365.7,298.2 358.5,310.2 351.7,322.5 345.3,334.9 339.3,347.6 333.7,360.4 328.6,373.4 323.9,386.6 319.7,400.0 308.2,438.3 296.7,476.6 285.2,514.9 273.7,553.2 262.2,591.5 250.7,629.9 239.2,668.2 227.8,706.5 216.3,744.8 204.8,783.1 193.3,821.4M733.6,95.2 719.6,94.9 705.6,95.2 691.6,95.9 677.7,97.1 663.8,98.7 649.9,100.8 636.1,103.3 622.5,106.3 608.9,109.7 595.4,113.6 582.1,117.9 569.0,122.7 556.0,127.9 543.1,133.5 530.5,139.5 518.1,146.0 505.9,152.8 493.9,160.1 482.2,167.7 470.7,175.7 459.5,184.1 448.6,192.9 437.9,202.0 427.6,211.5 417.6,221.3 408.0,231.4 398.6,241.8 389.6,252.5 381.0,263.6 372.7,274.9 364.9,286.4 357.4,298.3 350.3,310.3 343.5,322.6 337.3,335.1 331.4,347.8 325.9,360.7 320.9,373.8 316.3,387.0 312.1,400.4 300.9,438.8 289.6,477.1 278.3,515.5 267.1,553.9 255.8,592.3 244.6,630.7 233.3,669.0 222.1,707.4 210.8,745.8 199.5,784.2 188.3,822.6M721.8,87.8 707.8,88.0 693.8,88.6 679.8,89.7 665.9,91.2 652.1,93.2 638.3,95.6 624.6,98.5 611.0,101.8 597.5,105.5 584.1,109.7 570.9,114.3 557.9,119.4 545.0,124.8 532.3,130.7 519.7,137.0 507.4,143.7 495.4,150.7 483.5,158.2 471.9,166.1 460.6,174.3 449.5,182.9 438.8,191.8 428.3,201.1 418.1,210.7 408.3,220.6 398.7,230.9 389.5,241.4 380.7,252.3 372.2,263.4 364.1,274.8 356.3,286.5 348.9,298.4 341.9,310.5 335.4,322.9 329.2,335.4 323.4,348.2 318.1,361.1 313.1,374.2 308.6,387.5 304.5,400.9 293.5,439.3 282.5,477.8 271.5,516.2 260.4,554.7 249.4,593.1 238.4,631.6 227.3,670.0 216.3,708.5 205.3,746.9 194.3,785.4 183.2,823.8M709.8,80.7 695.8,81.3 681.9,82.2 667.9,83.7 654.1,85.6 640.3,87.9 626.5,90.6 612.9,93.8 599.4,97.5 586.0,101.5 572.7,106.0 559.6,110.9 546.7,116.2 533.9,121.9 521.3,128.1 508.9,134.6 496.7,141.5 484.8,148.8 473.1,156.5 461.6,164.6 450.5,173.0 439.5,181.7 428.9,190.8 418.6,200.3 408.5,210.0 398.8,220.1 389.4,230.5 380.4,241.2 371.7,252.1 363.3,263.4 355.3,274.9 347.7,286.6 340.4,298.6 333.6,310.8 327.1,323.2 321.0,335.8 315.4,348.6 310.1,361.6 305.3,374.7 300.9,388.0 296.9,401.4 286.1,440.0 275.3,478.5 264.5,517.0 253.7,555.5 242.9,594.0 232.1,632.5 221.3,671.1 210.5,709.6 199.8,748.1 189.0,786.6 178.2,825.1M697.7,73.9 683.7,74.8 669.8,76.2 655.9,78.0 642.1,80.2 628.3,82.8 614.7,85.9 601.1,89.4 587.7,93.4 574.4,97.7 561.2,102.5 548.2,107.7 535.4,113.3 522.7,119.3 510.3,125.6 498.0,132.4 486.0,139.6 474.2,147.1 462.6,155.0 451.3,163.2 440.2,171.8 429.5,180.7 419.0,190.0 408.8,199.6 398.9,209.5 389.3,219.7 380.1,230.2 371.2,241.0 362.6,252.1 354.4,263.4 346.5,275.0 339.0,286.9 331.9,298.9 325.2,311.2 318.8,323.7 312.9,336.3 307.3,349.2 302.2,362.2 297.4,375.4 293.1,388.7 289.2,402.1 278.6,440.7 268.1,479.3 257.5,517.9 247.0,556.4 236.4,595.0 225.8,633.6 215.3,672.2 204.7,710.8 194.2,749.4 183.6,787.9 173.1,826.5"/><path id="sl1" d="M871.4,223.0 858.8,216.9 846.0,211.3 832.9,206.3 819.7,201.9 806.2,198.0 792.6,194.6 778.9,191.9 765.1,189.7 751.2,188.1 737.2,187.1 723.2,186.6 709.2,186.8 695.2,187.5 681.3,188.9 667.4,190.8 653.7,193.3 640.0,196.4 626.5,200.0 613.1,204.2 600.0,209.0 587.0,214.3 574.3,220.1 561.8,226.5 549.7,233.4 537.8,240.8 526.2,248.7 515.0,257.1 504.1,265.9 493.7,275.2 483.6,284.9 473.9,295.1 464.7,305.6 455.9,316.5 447.6,327.8 439.8,339.4 432.5,351.3 425.6,363.5 419.3,376.0 413.5,388.8 408.3,401.7 394.1,439.1 379.9,476.5 365.7,513.9 351.5,551.3 337.3,588.7 323.2,626.1 309.0,663.5 294.8,700.9 280.6,738.3 266.4,775.7 252.2,813.1M862.8,211.5 850.0,205.9 836.9,200.8 823.7,196.2 810.3,192.2 796.7,188.8 783.0,185.9 769.2,183.6 755.3,181.9 741.4,180.7 727.4,180.1 713.4,180.1 699.4,180.7 685.4,181.8 671.5,183.5 657.7,185.8 644.0,188.6 630.4,192.0 617.0,196.0 603.8,200.5 590.7,205.6 577.9,211.2 565.3,217.3 553.0,223.9 540.9,231.0 529.2,238.7 517.7,246.7 506.7,255.3 495.9,264.3 485.6,273.8 475.7,283.6 466.1,293.9 457.0,304.5 448.4,315.5 440.2,326.9 432.5,338.6 425.3,350.5 418.5,362.8 412.3,375.4 406.6,388.2 401.5,401.2 387.5,438.6 373.5,476.1 359.5,513.6 345.6,551.1 331.6,588.6 317.6,626.0 303.6,663.5 289.6,701.0 275.6,738.5 261.7,775.9 247.7,813.4M853.8,200.3 840.8,195.1 827.6,190.5 814.2,186.5 800.7,182.9 787.0,179.9 773.2,177.5 759.3,175.6 745.4,174.3 731.4,173.6 717.4,173.4 703.4,173.8 689.4,174.8 675.5,176.3 661.7,178.4 647.9,181.0 634.3,184.2 620.8,187.9 607.5,192.2 594.3,197.0 581.4,202.3 568.7,208.2 556.2,214.6 544.0,221.4 532.1,228.8 520.5,236.6 509.2,244.9 498.3,253.6 487.7,262.8 477.5,272.4 467.7,282.4 458.3,292.8 449.3,303.5 440.8,314.6 432.8,326.1 425.2,337.8 418.0,349.9 411.4,362.2 405.3,374.8 399.7,387.6 394.6,400.7 380.8,438.2 367.1,475.8 353.3,513.3 339.5,550.9 325.7,588.4 312.0,626.0 298.2,663.6 284.4,701.1 270.7,738.7 256.9,776.2 243.1,813.8M844.6,189.4 831.4,184.8 818.0,180.6 804.5,177.0 790.8,173.9 777.0,171.4 763.2,169.4 749.3,168.0 735.3,167.1 721.3,166.8 707.3,167.0 693.3,167.8 679.4,169.1 665.5,171.0 651.7,173.4 638.0,176.4 624.5,179.9 611.1,184.0 597.9,188.5 584.8,193.6 572.0,199.2 559.4,205.4 547.1,212.0 535.0,219.1 523.2,226.6 511.8,234.7 500.6,243.1 489.8,252.0 479.4,261.4 469.3,271.1 459.7,281.2 450.4,291.7 441.6,302.6 433.2,313.8 425.2,325.3 417.7,337.2 410.7,349.3 404.2,361.7 398.2,374.3 392.7,387.2 387.7,400.2 374.1,437.9 360.5,475.5 347.0,513.1 333.4,550.8 319.9,588.4 306.3,626.0 292.7,663.7 279.2,701.3 265.6,738.9 252.1,776.6 238.5,814.2M835.0,178.9 821.6,174.7 808.1,171.0 794.5,167.8 780.8,165.2 766.9,163.1 753.0,161.6 739.0,160.6 725.0,160.1 711.0,160.2 697.1,160.8 683.1,161.9 669.2,163.6 655.4,165.9 641.7,168.7 628.1,172.0 614.6,175.8 601.3,180.2 588.2,185.0 575.3,190.4 562.6,196.3 550.1,202.7 537.9,209.5 525.9,216.8 514.3,224.6 503.0,232.8 492.0,241.5 481.3,250.6 471.0,260.1 461.1,269.9 451.6,280.2 442.4,290.8 433.7,301.8 425.5,313.1 417.7,324.7 410.3,336.6 403.4,348.8 397.0,361.2 391.0,373.9 385.6,386.8 380.7,399.9 367.3,437.6 354.0,475.3 340.6,513.0 327.3,550.7 313.9,588.4 300.6,626.1 287.2,663.8 273.9,701.5 260.5,739.3 247.2,777.0 233.9,814.7M825.2,168.7 811.7,164.9 798.1,161.7 784.3,159.0 770.5,156.8 756.6,155.1 742.6,154.0 728.7,153.4 714.7,153.3 700.7,153.8 686.7,154.8 672.8,156.4 658.9,158.4 645.2,161.0 631.5,164.1 618.0,167.8 604.7,171.9 591.5,176.6 578.4,181.7 565.6,187.4 553.0,193.5 540.7,200.1 528.6,207.2 516.8,214.7 505.3,222.7 494.1,231.1 483.3,240.0 472.8,249.2 462.6,258.8 452.8,268.8 443.4,279.2 434.4,290.0 425.9,301.0 417.7,312.4 410.0,324.1 402.8,336.1 396.0,348.3 389.7,360.8 383.8,373.5 378.5,386.5 373.6,399.6 360.5,437.4 347.4,475.2 334.2,513.0 321.1,550.7 308.0,588.5 294.8,626.3 281.7,664.1 268.6,701.9 255.4,739.6 242.3,777.4 229.2,815.2M815.1,158.8 801.5,155.5 787.8,152.7 773.9,150.4 760.1,148.7 746.1,147.4 732.1,146.7 718.1,146.5 704.1,146.8 690.2,147.7 676.2,149.1 662.4,151.0 648.6,153.4 634.9,156.3 621.3,159.8 607.9,163.7 594.6,168.2 581.5,173.1 568.6,178.6 555.9,184.5 543.5,190.9 531.3,197.7 519.3,205.0 507.6,212.8 496.3,220.9 485.2,229.5 474.5,238.5 464.1,247.9 454.1,257.7 444.5,267.9 435.2,278.4 426.4,289.2 417.9,300.4 409.9,311.8 402.3,323.6 395.2,335.6 388.5,347.9 382.3,360.5 376.5,373.3 371.3,386.2 366.5,399.4 353.6,437.3 340.7,475.1 327.8,513.0 314.9,550.8 301.9,588.7 289.0,626.5 276.1,664.4 263.2,702.3 250.3,740.1 237.4,778.0 224.4,815.8M804.7,149.2 791.0,146.4 777.2,144.0 763.4,142.2 749.4,140.8 735.5,140.0 721.5,139.7 707.5,139.9 693.5,140.6 679.5,141.8 665.6,143.6 651.8,145.8 638.1,148.6 624.5,151.9 611.0,155.6 597.7,159.9 584.5,164.6 571.5,169.9 558.7,175.6 546.2,181.7 533.8,188.4 521.8,195.4 509.9,203.0 498.4,210.9 487.2,219.3 476.3,228.0 465.7,237.2 455.5,246.8 445.6,256.7 436.1,267.0 427.0,277.6 418.2,288.5 409.9,299.8 402.0,311.3 394.6,323.2 387.5,335.3 381.0,347.7 374.9,360.3 369.2,373.1 364.0,386.1 359.4,399.3 346.7,437.2 334.0,475.1 321.3,513.1 308.6,551.0 295.9,588.9 283.2,626.9 270.5,664.8 257.8,702.7 245.1,740.6 232.4,778.6 219.7,816.5M794.2,140.0 780.4,137.5 766.5,135.6 752.6,134.2 738.6,133.3 724.6,132.8 710.6,132.9 696.6,133.5 682.7,134.6 668.8,136.2 654.9,138.3 641.2,140.9 627.5,144.0 614.0,147.6 600.6,151.7 587.4,156.2 574.3,161.3 561.4,166.8 548.8,172.7 536.3,179.1 524.1,186.0 512.2,193.3 500.5,201.0 489.1,209.2 478.0,217.7 467.3,226.7 456.8,236.0 446.7,245.7 437.0,255.8 427.6,266.2 418.6,276.9 410.1,287.9 401.9,299.3 394.1,310.9 386.8,322.9 379.8,335.0 373.4,347.5 367.4,360.1 361.8,373.0 356.7,386.0 352.1,399.2 339.7,437.2 327.2,475.2 314.7,513.2 302.2,551.2 289.7,589.2 277.3,627.2 264.8,665.2 252.3,703.2 239.8,741.3 227.4,779.3 214.9,817.3M783.4,131.0 769.5,129.0 755.6,127.5 741.7,126.5 727.7,126.0 713.7,125.9 699.7,126.4 685.7,127.4 671.8,128.9 657.9,130.8 644.1,133.3 630.5,136.2 616.9,139.6 603.4,143.5 590.1,147.9 577.0,152.7 564.1,158.1 551.3,163.8 538.8,170.0 526.4,176.7 514.4,183.8 502.6,191.3 491.0,199.2 479.8,207.6 468.8,216.3 458.2,225.4 447.9,234.9 437.9,244.7 428.3,254.9 419.1,265.5 410.3,276.3 401.8,287.5 393.8,298.9 386.1,310.6 378.9,322.6 372.1,334.9 365.7,347.3 359.8,360.0 354.4,372.9 349.4,386.0 344.8,399.2 332.6,437.3 320.3,475.4 308.1,513.5 295.8,551.6 283.6,589.6 271.3,627.7 259.1,665.8 246.8,703.9 234.5,741.9 222.3,780.0 210.0,818.1M772.4,122.4 758.5,120.8 744.5,119.7 730.5,119.1 716.5,118.9 702.6,119.3 688.6,120.2 674.6,121.5 660.8,123.3 647.0,125.6 633.2,128.4 619.6,131.7 606.1,135.4 592.8,139.6 579.6,144.3 566.6,149.4 553.7,155.0 541.1,161.1 528.7,167.5 516.5,174.4 504.5,181.7 492.9,189.4 481.5,197.6 470.4,206.1 459.6,215.0 449.1,224.3 438.9,233.9 429.1,243.9 419.6,254.2 410.6,264.9 401.8,275.8 393.5,287.1 385.6,298.6 378.1,310.4 370.9,322.5 364.3,334.8 358.0,347.3 352.2,360.0 346.9,373.0 342.0,386.1 337.5,399.4 325.5,437.5 313.4,475.7 301.4,513.8 289.4,551.9 277.3,590.1 265.3,628.2 253.3,666.4 241.2,704.5 229.2,742.7 217.2,780.8 205.2,819.0M761.2,114.0 747.3,112.8 733.3,112.1 719.3,111.9 705.3,112.2 691.3,112.9 677.4,114.2 663.5,115.9 649.6,118.0 635.9,120.7 622.2,123.8 608.7,127.4 595.3,131.4 582.0,136.0 569.0,140.9 556.0,146.3 543.3,152.2 530.8,158.4 518.5,165.1 506.5,172.3 494.7,179.8 483.1,187.7 471.9,196.0 460.9,204.7 450.2,213.8 439.9,223.2 429.9,233.0 420.2,243.1 410.9,253.6 401.9,264.4 393.3,275.4 385.2,286.8 377.3,298.4 369.9,310.3 363.0,322.4 356.4,334.8 350.3,347.3 344.5,360.1 339.3,373.1 334.5,386.2 330.1,399.6 318.3,437.8 306.5,476.0 294.7,514.2 282.9,552.4 271.1,590.6 259.3,628.9 247.5,667.1 235.7,705.3 223.8,743.5 212.0,781.7 200.2,819.9M749.8,106.0 735.8,105.2 721.8,104.9 707.8,105.1 693.9,105.7 679.9,106.8 666.0,108.4 652.2,110.5 638.4,113.0 624.7,116.0 611.1,119.4 597.7,123.3 584.4,127.7 571.2,132.5 558.2,137.7 545.4,143.4 532.8,149.5 520.5,156.0 508.3,162.9 496.4,170.3 484.7,178.0 473.3,186.1 462.2,194.6 451.4,203.5 440.9,212.8 430.7,222.3 420.8,232.3 411.3,242.5 402.1,253.1 393.2,264.0 384.8,275.1 376.7,286.6 369.1,298.3 361.8,310.2 354.9,322.4 348.5,334.8 342.4,347.5 336.8,360.3 331.7,373.3 326.9,386.5 322.7,399.8 311.1,438.1 299.5,476.4 287.9,514.7 276.3,553.0 264.8,591.3 253.2,629.6 241.6,667.8 230.0,706.1 218.4,744.4 206.9,782.7 195.3,821.0M738.3,98.2 724.3,97.8 710.3,97.9 696.3,98.5 682.3,99.5 668.4,101.0 654.5,102.9 640.7,105.3 627.0,108.2 613.4,111.5 599.9,115.2 586.6,119.4 573.4,124.1 560.3,129.1 547.5,134.7 534.8,140.6 522.3,146.9 510.1,153.7 498.0,160.9 486.2,168.4 474.7,176.4 463.5,184.7 452.5,193.4 441.8,202.4 431.4,211.8 421.4,221.5 411.6,231.6 402.2,242.0 393.2,252.7 384.5,263.7 376.2,274.9 368.3,286.5 360.7,298.2 353.6,310.3 346.8,322.5 340.5,335.0 334.5,347.7 329.0,360.6 324.0,373.6 319.3,386.8 315.1,400.2 303.8,438.6 292.4,476.9 281.1,515.3 269.7,553.6 258.4,592.0 247.0,630.3 235.7,668.7 224.3,707.0 213.0,745.4 201.6,783.8 190.3,822.1M726.5,90.7 712.5,90.7 698.5,91.2 684.6,92.1 670.6,93.5 656.8,95.3 642.9,97.6 629.2,100.4 615.6,103.5 602.1,107.2 588.7,111.2 575.4,115.7 562.3,120.7 549.4,126.0 536.6,131.8 524.1,138.0 511.7,144.6 499.6,151.6 487.7,158.9 476.0,166.7 464.6,174.8 453.5,183.4 442.7,192.2 432.2,201.4 421.9,211.0 412.0,220.9 402.4,231.1 393.2,241.6 384.3,252.4 375.7,263.5 367.5,274.8 359.7,286.5 352.3,298.3 345.3,310.4 338.6,322.8 332.4,335.3 326.6,348.0 321.2,360.9 316.2,374.0 311.7,387.3 307.6,400.7 296.5,439.1 285.3,477.5 274.2,515.9 263.1,554.3 252.0,592.8 240.9,631.2 229.7,669.6 218.6,708.0 207.5,746.5 196.4,784.9 185.3,823.3M714.6,83.5 700.6,83.9 686.7,84.7 672.7,86.0 658.8,87.8 645.0,90.0 631.2,92.6 617.6,95.7 604.0,99.2 590.6,103.1 577.3,107.5 564.1,112.2 551.1,117.5 538.3,123.1 525.7,129.1 513.3,135.5 501.0,142.4 489.0,149.6 477.3,157.2 465.8,165.1 454.5,173.5 443.5,182.2 432.9,191.2 422.5,200.6 412.4,210.3 402.6,220.3 393.2,230.6 384.0,241.3 375.3,252.2 366.9,263.4 358.8,274.8 351.1,286.5 343.8,298.5 336.9,310.7 330.4,323.1 324.3,335.7 318.6,348.4 313.3,361.4 308.4,374.5 304.0,387.8 299.9,401.2 289.1,439.7 278.2,478.2 267.3,516.7 256.4,555.2 245.5,593.6 234.6,632.1 223.7,670.6 212.9,709.1 202.0,747.6 191.1,786.1 180.2,824.6M702.6,76.6 688.6,77.4 674.6,78.6 660.7,80.2 646.9,82.3 633.1,84.8 619.4,87.8 605.9,91.2 592.4,95.0 579.0,99.2 565.8,103.9 552.8,109.0 539.9,114.4 527.2,120.3 514.7,126.6 502.4,133.3 490.3,140.3 478.4,147.8 466.8,155.6 455.4,163.7 444.3,172.3 433.5,181.1 423.0,190.3 412.7,199.9 402.8,209.7 393.1,219.9 383.8,230.3 374.9,241.1 366.2,252.1 358.0,263.4 350.0,275.0 342.5,286.7 335.3,298.8 328.5,311.0 322.1,323.5 316.1,336.1 310.5,348.9 305.3,361.9 300.6,375.1 296.2,388.4 292.3,401.8 281.6,440.4 271.0,478.9 260.3,517.5 249.7,556.1 239.0,594.6 228.4,633.2 217.7,671.7 207.1,710.3 196.4,748.8 185.8,787.4 175.1,826.0"/><path id="sd2" d="M685.4,67.4 671.5,68.7 657.6,70.4 643.8,72.5 630.0,75.1 616.3,78.1 602.7,81.5 589.3,85.3 575.9,89.5 562.7,94.2 549.7,99.2 536.8,104.7 524.1,110.5 511.5,116.8 499.2,123.4 487.1,130.4 475.2,137.7 463.5,145.5 452.1,153.6 440.9,162.0 430.0,170.8 419.4,179.9 409.0,189.3 399.0,199.1 389.2,209.1 379.8,219.5 370.7,230.1 361.9,241.0 353.5,252.2 345.4,263.6 337.7,275.3 330.3,287.2 323.3,299.3 316.7,311.7 310.5,324.2 304.6,336.9 299.2,349.8 294.1,362.9 289.5,376.1 285.2,389.4 281.4,402.9 271.1,441.5 260.8,480.2 250.5,518.8 240.1,557.5 229.8,596.1 219.5,634.8 209.2,673.4 198.9,712.1 188.5,750.7 178.2,789.3 167.9,828.0M673.0,61.1 659.1,62.8 645.3,64.8 631.5,67.3 617.8,70.2 604.2,73.5 590.7,77.2 577.3,81.3 564.1,85.9 551.0,90.8 538.0,96.1 525.2,101.9 512.6,108.0 500.2,114.4 488.0,121.3 476.0,128.5 464.3,136.1 452.7,144.0 441.4,152.3 430.4,160.9 419.7,169.9 409.2,179.2 399.0,188.8 389.1,198.7 379.5,208.8 370.2,219.3 361.2,230.1 352.6,241.1 344.3,252.4 336.3,263.9 328.8,275.7 321.5,287.6 314.6,299.8 308.2,312.2 302.0,324.8 296.3,337.6 291.0,350.6 286.0,363.6 281.5,376.9 277.3,390.3 273.6,403.8 263.5,442.5 253.4,481.2 243.4,519.9 233.3,558.6 223.2,597.3 213.1,636.0 203.0,674.7 193.0,713.4 182.9,752.1 172.8,790.8 162.7,829.6M660.5,55.1 646.6,57.1 632.8,59.5 619.1,62.3 605.5,65.5 592.0,69.2 578.5,73.2 565.3,77.6 552.1,82.4 539.1,87.6 526.3,93.2 513.6,99.2 501.2,105.6 488.9,112.3 476.8,119.4 464.9,126.8 453.3,134.6 441.9,142.8 430.8,151.2 419.9,160.0 409.3,169.2 398.9,178.6 388.9,188.3 379.1,198.4 369.7,208.7 360.5,219.3 351.7,230.2 343.2,241.3 335.1,252.7 327.2,264.3 319.8,276.1 312.7,288.2 305.9,300.5 299.6,312.9 293.6,325.6 287.9,338.4 282.7,351.4 277.9,364.5 273.4,377.8 269.4,391.2 265.7,404.7 255.9,443.5 246.1,482.3 236.2,521.0 226.4,559.8 216.5,598.6 206.7,637.3 196.9,676.1 187.0,714.9 177.2,753.7 167.3,792.4 157.5,831.2M647.8,49.4 634.0,51.7 620.2,54.5 606.6,57.6 593.1,61.1 579.6,65.1 566.3,69.4 553.1,74.1 540.1,79.2 527.2,84.7 514.5,90.6 501.9,96.8 489.6,103.4 477.4,110.3 465.5,117.6 453.8,125.3 442.3,133.3 431.0,141.6 420.0,150.3 409.3,159.3 398.8,168.6 388.6,178.2 378.7,188.0 369.1,198.2 359.8,208.7 350.8,219.4 342.1,230.4 333.8,241.6 325.8,253.1 318.1,264.8 310.8,276.7 303.8,288.9 297.2,301.2 290.9,313.7 285.0,326.4 279.5,339.3 274.4,352.3 269.7,365.5 265.3,378.8 261.4,392.2 257.8,405.8 248.2,444.6 238.6,483.5 229.0,522.3 219.4,561.1 209.8,599.9 200.2,638.8 190.6,677.6 181.0,716.4 171.5,755.3 161.9,794.1 152.3,832.9M635.0,44.0 621.2,46.6 607.6,49.7 594.0,53.1 580.5,57.0 567.2,61.2 554.0,65.8 540.9,70.8 528.0,76.2 515.2,81.9 502.6,88.1 490.2,94.5 478.0,101.4 466.0,108.5 454.1,116.1 442.6,123.9 431.2,132.1 420.1,140.7 409.3,149.5 398.7,158.6 388.3,168.1 378.3,177.9 368.5,187.9 359.1,198.2 349.9,208.8 341.0,219.6 332.5,230.7 324.3,242.1 316.4,253.6 308.9,265.4 301.7,277.4 294.8,289.6 288.3,302.0 282.2,314.6 276.5,327.4 271.1,340.3 266.0,353.4 261.4,366.6 257.2,379.9 253.3,393.4 249.8,407.0 240.5,445.8 231.1,484.7 221.8,523.6 212.4,562.5 203.1,601.4 193.7,640.3 184.4,679.2 175.0,718.1 165.7,757.0 156.3,795.9 147.0,834.8M622.0,38.8 608.4,41.8 594.8,45.2 581.3,48.9 567.9,53.1 554.7,57.6 541.5,62.5 528.6,67.8 515.8,73.4 503.1,79.4 490.6,85.8 478.4,92.5 466.3,99.5 454.4,106.9 442.7,114.7 431.3,122.8 420.1,131.1 409.1,139.8 398.4,148.9 388.0,158.2 377.8,167.8 367.9,177.7 358.3,187.9 348.9,198.3 339.9,209.0 331.2,220.0 322.8,231.2 314.8,242.6 307.0,254.3 299.6,266.2 292.5,278.3 285.8,290.5 279.5,303.0 273.5,315.7 267.8,328.5 262.5,341.4 257.6,354.5 253.1,367.8 249.0,381.2 245.2,394.6 241.8,408.2 232.7,447.2 223.6,486.1 214.5,525.1 205.4,564.0 196.3,603.0 187.2,641.9 178.1,680.9 169.0,719.8 159.9,758.8 150.8,797.7 141.7,836.7M609.0,33.9 595.4,37.2 581.9,40.9 568.5,44.9 555.2,49.4 542.0,54.2 529.0,59.4 516.2,64.9 503.5,70.8 491.0,77.1 478.6,83.7 466.5,90.6 454.5,97.9 442.8,105.5 431.2,113.5 419.9,121.7 408.9,130.3 398.1,139.2 387.5,148.4 377.2,157.9 367.2,167.6 357.4,177.7 347.9,188.0 338.8,198.6 329.9,209.4 321.3,220.5 313.1,231.8 305.2,243.3 297.6,255.1 290.3,267.0 283.3,279.2 276.8,291.5 270.5,304.1 264.6,316.8 259.1,329.6 254.0,342.7 249.2,355.8 244.7,369.1 240.7,382.5 237.0,396.0 233.7,409.6 224.9,448.6 216.0,487.6 207.2,526.6 198.3,565.6 189.4,604.6 180.6,643.7 171.7,682.7 162.9,721.7 154.0,760.7 145.2,799.7 136.3,838.7M595.8,29.2 582.3,32.8 568.9,36.8 555.6,41.2 542.4,45.9 529.3,51.0 516.4,56.5 503.7,62.3 491.1,68.4 478.7,74.9 466.5,81.8 454.5,88.9 442.7,96.4 431.1,104.3 419.7,112.4 408.5,120.9 397.6,129.6 387.0,138.7 376.5,148.1 366.4,157.7 356.5,167.6 346.9,177.8 337.6,188.2 328.6,198.9 319.8,209.9 311.4,221.1 303.3,232.5 295.5,244.1 288.0,256.0 280.9,268.0 274.1,280.2 267.6,292.7 261.5,305.3 255.8,318.0 250.4,330.9 245.3,344.0 240.6,357.2 236.3,370.5 232.4,383.9 228.8,397.5 225.6,411.1 217.0,450.2 208.4,489.2 199.8,528.3 191.2,567.4 182.6,606.4 174.0,645.5 165.4,684.5 156.7,723.6 148.1,762.7 139.5,801.7 130.9,840.8M582.5,24.8 569.1,28.7 555.8,33.0 542.6,37.7 529.5,42.7 516.5,48.1 503.8,53.8 491.2,59.8 478.7,66.2 466.4,73.0 454.4,80.1 442.5,87.5 430.8,95.2 419.3,103.2 408.1,111.5 397.1,120.2 386.3,129.1 375.8,138.4 365.5,147.9 355.5,157.7 345.8,167.7 336.3,178.1 327.2,188.6 318.3,199.5 309.7,210.5 301.4,221.8 293.4,233.3 285.8,245.1 278.5,257.0 271.5,269.1 264.8,281.4 258.5,293.9 252.5,306.6 246.8,319.4 241.6,332.3 236.6,345.4 232.0,358.7 227.8,372.0 224.0,385.5 220.5,399.0 217.4,412.7 209.0,451.8 200.7,490.9 192.3,530.0 184.0,569.2 175.6,608.3 167.3,647.4 158.9,686.5 150.6,725.6 142.2,764.8 133.9,803.9 125.5,843.0M569.1,20.7 555.8,24.9 542.6,29.5 529.5,34.4 516.5,39.7 503.7,45.3 491.0,51.3 478.5,57.6 466.2,64.3 454.1,71.2 442.1,78.5 430.4,86.2 418.8,94.1 407.5,102.3 396.4,110.9 385.5,119.7 374.9,128.8 364.6,138.2 354.4,147.9 344.6,157.8 335.0,168.0 325.7,178.5 316.7,189.2 307.9,200.1 299.5,211.3 291.4,222.7 283.5,234.3 276.0,246.1 268.8,258.1 262.0,270.3 255.4,282.7 249.2,295.3 243.4,308.0 237.9,320.9 232.7,333.9 227.9,347.0 223.4,360.3 219.3,373.7 215.6,387.1 212.2,400.7 209.2,414.4 201.1,453.6 193.0,492.7 184.9,531.9 176.8,571.1 168.7,610.3 160.6,649.4 152.5,688.6 144.4,727.8 136.3,767.0 128.2,806.1 120.1,845.3M555.6,16.8 542.4,21.3 529.3,26.2 516.3,31.4 503.4,36.9 490.7,42.8 478.2,49.1 465.8,55.6 453.6,62.5 441.6,69.7 429.8,77.2 418.2,85.0 406.8,93.2 395.6,101.6 384.7,110.3 374.0,119.3 363.5,128.6 353.3,138.2 343.3,148.0 333.6,158.1 324.2,168.5 315.0,179.1 306.1,189.9 297.5,200.9 289.3,212.2 281.3,223.7 273.6,235.4 266.2,247.3 259.2,259.4 252.4,271.7 246.0,284.1 240.0,296.8 234.2,309.5 228.8,322.5 223.8,335.5 219.1,348.7 214.7,362.0 210.7,375.4 207.1,388.9 203.8,402.5 200.9,416.2 193.0,455.5 185.2,494.7 177.3,533.9 169.5,573.1 161.7,612.3 153.8,651.6 146.0,690.8 138.1,730.0 130.3,769.2 122.5,808.5 114.6,847.7M542.0,13.1 528.9,17.9 515.9,23.1 503.0,28.6 490.3,34.4 477.7,40.5 465.3,47.0 453.0,53.8 441.0,60.9 429.1,68.4 417.4,76.1 406.0,84.1 394.7,92.5 383.7,101.1 372.9,110.0 362.3,119.2 352.0,128.6 341.9,138.4 332.1,148.3 322.6,158.6 313.3,169.0 304.3,179.8 295.5,190.7 287.1,201.9 279.0,213.3 271.1,224.9 263.6,236.7 256.4,248.7 249.4,260.8 242.8,273.2 236.6,285.7 230.6,298.4 225.0,311.2 219.8,324.2 214.8,337.3 210.2,350.5 206.0,363.8 202.1,377.3 198.6,390.8 195.4,404.5 192.5,418.2 184.9,457.4 177.4,496.7 169.8,536.0 162.2,575.3 154.6,614.5 147.0,653.8 139.5,693.1 131.9,732.4 124.3,771.6 116.7,810.9 109.1,850.2M528.3,9.7 515.3,14.8 502.4,20.3 489.6,26.0 477.0,32.1 464.6,38.5 452.3,45.2 440.2,52.2 428.3,59.6 416.5,67.2 405.0,75.2 393.7,83.4 382.6,91.9 371.7,100.7 361.0,109.8 350.6,119.2 340.5,128.8 330.5,138.7 320.9,148.8 311.5,159.2 302.3,169.8 293.5,180.6 284.9,191.7 276.6,203.0 268.6,214.5 260.9,226.2 253.5,238.0 246.4,250.1 239.7,262.4 233.2,274.8 227.1,287.4 221.3,300.1 215.8,313.0 210.6,326.0 205.8,339.2 201.3,352.4 197.2,365.8 193.4,379.3 190.0,392.8 186.9,406.5 184.1,420.2 176.8,459.6 169.5,498.9 162.2,538.2 154.9,577.5 147.5,616.9 140.2,656.2 132.9,695.5 125.6,734.8 118.2,774.1 110.9,813.5 103.6,852.8M514.5,6.6 501.6,12.0 488.8,17.7 476.2,23.7 463.7,30.0 451.4,36.7 439.2,43.6 427.3,50.9 415.5,58.4 403.9,66.3 392.5,74.4 381.3,82.9 370.4,91.6 359.6,100.6 349.1,109.8 338.9,119.4 328.8,129.1 319.1,139.2 309.6,149.4 300.3,159.9 291.3,170.7 282.6,181.6 274.2,192.8 266.1,204.2 258.2,215.8 250.7,227.6 243.4,239.6 236.5,251.7 229.8,264.0 223.5,276.5 217.5,289.2 211.8,302.0 206.5,314.9 201.4,328.0 196.7,341.2 192.4,354.5 188.4,367.9 184.7,381.4 181.3,395.0 178.4,408.7 175.7,422.4 168.6,461.8 161.6,501.2 154.5,540.5 147.5,579.9 140.4,619.3 133.4,658.6 126.3,698.0 119.2,737.4 112.2,776.8 105.1,816.1 98.1,855.5M500.7,3.7 487.8,9.4 475.2,15.3 462.7,21.6 450.3,28.2 438.1,35.0 426.1,42.2 414.3,49.7 402.6,57.5 391.2,65.6 379.9,73.9 368.9,82.5 358.1,91.4 347.5,100.6 337.2,110.0 327.1,119.7 317.2,129.6 307.6,139.8 298.2,150.2 289.1,160.9 280.3,171.7 271.7,182.8 263.5,194.1 255.5,205.6 247.8,217.3 240.4,229.2 233.2,241.2 226.4,253.5 219.9,265.9 213.8,278.4 207.9,291.1 202.3,304.0 197.1,317.0 192.2,330.1 187.6,343.3 183.4,356.7 179.5,370.1 175.9,383.6 172.7,397.3 169.8,410.9 167.2,424.7 160.4,464.1 153.6,503.6 146.8,543.0 140.0,582.4 133.2,621.8 126.5,661.2 119.7,700.6 112.9,740.1 106.1,779.5 99.3,818.9 92.5,858.3M486.7,1.1 474.0,7.0 461.4,13.2 449.1,19.7 436.8,26.5 424.8,33.7 412.9,41.1 401.2,48.8 389.7,56.8 378.4,65.0 367.3,73.6 356.4,82.4 345.8,91.5 335.3,100.8 325.1,110.4 315.2,120.2 305.5,130.3 296.0,140.6 286.8,151.2 277.9,161.9 269.2,172.9 260.8,184.1 252.7,195.5 244.8,207.1 237.3,218.9 230.0,230.9 223.0,243.0 216.4,255.3 210.0,267.8 204.0,280.4 198.2,293.2 192.8,306.1 187.7,319.1 182.9,332.3 178.5,345.6 174.3,359.0 170.5,372.4 167.1,386.0 163.9,399.6 161.1,413.4 158.7,427.1 152.2,466.6 145.6,506.1 139.1,545.5 132.6,585.0 126.1,624.5 119.5,663.9 113.0,703.4 106.5,742.9 99.9,782.3 93.4,821.8 86.9,861.2M472.6,-1.3 460.1,4.9 447.6,11.3 435.4,18.1 423.3,25.2 411.4,32.5 399.6,40.1 388.1,48.0 376.7,56.2 365.6,64.7 354.6,73.4 343.9,82.4 333.4,91.7 323.1,101.2 313.1,110.9 303.3,120.9 293.7,131.2 284.4,141.6 275.4,152.3 266.6,163.2 258.0,174.3 249.8,185.6 241.8,197.1 234.1,208.8 226.7,220.7 219.6,232.7 212.8,245.0 206.3,257.4 200.0,269.9 194.1,282.6 188.5,295.4 183.2,308.4 178.2,321.5 173.6,334.7 169.2,348.0 165.2,361.4 161.6,374.9 158.2,388.5 155.2,402.2 152.5,415.9 150.1,429.7 143.9,469.2 137.6,508.7 131.3,548.2 125.1,587.7 118.8,627.2 112.6,666.7 106.3,706.2 100.0,745.8 93.8,785.3 87.5,824.8 81.3,864.3M458.5,-3.4 446.0,3.0 433.7,9.7 421.6,16.7 409.7,24.0 397.9,31.6 386.3,39.4 374.9,47.5 363.7,55.9 352.7,64.6 341.9,73.5 331.3,82.7 321.0,92.1 310.8,101.8 300.9,111.7 291.3,121.8 281.9,132.2 272.7,142.8 263.8,153.6 255.2,164.6 246.8,175.8 238.7,187.2 230.9,198.9 223.4,210.7 216.1,222.6 209.1,234.8 202.5,247.1 196.1,259.5 190.0,272.1 184.2,284.9 178.7,297.8 173.6,310.8 168.7,323.9 164.2,337.2 160.0,350.5 156.1,364.0 152.5,377.5 149.3,391.1 146.4,404.8 143.8,418.6 141.5,432.4 135.5,471.9 129.5,511.5 123.5,551.0 117.5,590.6 111.6,630.1 105.6,669.7 99.6,709.2 93.6,748.8 87.6,788.3 81.6,827.9 75.6,867.4M444.3,-5.3 431.9,1.4 419.8,8.3 407.8,15.5 396.0,23.1 384.3,30.8 372.9,38.9 361.6,47.2 350.6,55.8 339.7,64.7 329.1,73.8 318.7,83.1 308.5,92.7 298.5,102.5 288.8,112.6 279.3,122.9 270.0,133.4 261.0,144.1 252.3,155.0 243.8,166.2 235.6,177.5 227.6,189.0 220.0,200.8 212.6,212.6 205.5,224.7 198.6,236.9 192.1,249.3 185.9,261.8 179.9,274.5 174.3,287.3 168.9,300.3 163.9,313.3 159.2,326.5 154.8,339.8 150.7,353.2 146.9,366.7 143.4,380.2 140.3,393.9 137.5,407.6 135.0,421.4 132.8,435.2 127.1,474.8 121.4,514.4 115.7,554.0 110.0,593.6 104.2,633.1 98.5,672.7 92.8,712.3 87.1,751.9 81.4,791.5 75.7,831.1 69.9,870.7"/><path id="sl2" d="M690.4,70.0 676.4,71.1 662.5,72.7 648.6,74.7 634.8,77.1 621.1,79.9 607.5,83.2 594.0,86.9 580.7,91.0 567.4,95.6 554.3,100.5 541.4,105.9 528.6,111.6 516.0,117.7 503.6,124.3 491.5,131.2 479.5,138.4 467.8,146.1 456.3,154.1 445.1,162.5 434.1,171.2 423.4,180.2 413.0,189.6 402.9,199.3 393.1,209.3 383.6,219.6 374.4,230.1 365.6,241.0 357.1,252.1 349.0,263.5 341.2,275.2 333.8,287.0 326.8,299.1 320.1,311.5 313.8,324.0 307.9,336.7 302.4,349.5 297.3,362.6 292.7,375.8 288.4,389.1 284.5,402.6 274.1,441.2 263.7,479.8 253.3,518.4 242.9,557.1 232.5,595.7 222.0,634.3 211.6,672.9 201.2,711.5 190.8,750.2 180.4,788.8 170.0,827.4M678.0,63.6 664.1,65.1 650.2,67.0 636.4,69.3 622.7,72.1 609.1,75.3 595.5,78.9 582.1,82.9 568.8,87.3 555.7,92.1 542.7,97.3 529.9,103.0 517.2,109.0 504.8,115.3 492.5,122.1 480.5,129.2 468.6,136.7 457.0,144.6 445.7,152.8 434.6,161.3 423.8,170.2 413.3,179.4 403.0,189.0 393.0,198.8 383.4,208.9 374.0,219.4 365.0,230.1 356.3,241.0 348.0,252.3 340.0,263.8 332.3,275.5 325.0,287.4 318.1,299.6 311.6,312.0 305.4,324.6 299.6,337.3 294.3,350.2 289.3,363.3 284.7,376.6 280.5,389.9 276.7,403.4 266.6,442.1 256.4,480.8 246.2,519.4 236.0,558.1 225.9,596.8 215.7,635.5 205.5,674.2 195.3,712.9 185.2,751.6 175.0,790.2 164.8,828.9M665.5,57.5 651.6,59.3 637.8,61.6 624.1,64.3 610.4,67.4 596.9,70.9 583.4,74.8 570.1,79.1 556.9,83.8 543.9,88.9 531.0,94.4 518.3,100.2 505.8,106.5 493.4,113.1 481.3,120.1 469.4,127.5 457.7,135.2 446.3,143.2 435.1,151.6 424.1,160.4 413.4,169.4 403.0,178.8 392.9,188.5 383.1,198.5 373.6,208.7 364.4,219.3 355.5,230.1 347.0,241.2 338.8,252.5 330.9,264.1 323.4,275.9 316.2,288.0 309.4,300.2 303.0,312.6 297.0,325.3 291.3,338.1 286.0,351.0 281.1,364.2 276.7,377.4 272.6,390.8 268.9,404.3 259.0,443.1 249.0,481.8 239.1,520.6 229.1,559.3 219.2,598.1 209.3,636.8 199.3,675.5 189.4,714.3 179.5,753.0 169.5,791.8 159.6,830.5M652.9,51.7 639.0,53.9 625.3,56.5 611.6,59.5 598.0,62.9 584.6,66.7 571.2,70.9 558.0,75.5 544.9,80.5 532.0,85.9 519.2,91.6 506.6,97.7 494.2,104.2 482.0,111.1 470.0,118.3 458.3,125.9 446.7,133.8 435.4,142.1 424.3,150.6 413.5,159.6 403.0,168.8 392.8,178.3 382.8,188.1 373.1,198.3 363.8,208.7 354.7,219.3 346.0,230.3 337.6,241.5 329.5,252.9 321.8,264.6 314.4,276.5 307.3,288.6 300.7,300.9 294.4,313.4 288.5,326.1 282.9,338.9 277.7,351.9 273.0,365.1 268.6,378.4 264.6,391.8 261.0,405.3 251.3,444.2 241.6,483.0 231.9,521.8 222.2,560.6 212.5,599.4 202.8,638.2 193.1,677.0 183.4,715.8 173.7,754.6 164.1,793.4 154.4,832.2M640.1,46.1 626.3,48.6 612.6,51.6 599.0,54.9 585.6,58.6 572.2,62.7 558.9,67.2 545.8,72.1 532.8,77.4 520.0,83.0 507.4,89.0 494.9,95.4 482.6,102.1 470.6,109.2 458.7,116.7 447.1,124.5 435.7,132.6 424.5,141.0 413.6,149.8 402.9,158.9 392.5,168.3 382.4,178.0 372.6,187.9 363.1,198.2 353.9,208.7 345.0,219.5 336.4,230.6 328.1,241.9 320.2,253.4 312.6,265.2 305.3,277.1 298.4,289.3 291.9,301.7 285.7,314.3 279.9,327.0 274.5,339.9 269.4,353.0 264.7,366.2 260.4,379.5 256.5,392.9 253.0,406.5 243.6,445.3 234.1,484.2 224.7,523.1 215.2,561.9 205.8,600.8 196.3,639.7 186.9,678.6 177.4,717.4 168.0,756.3 158.5,795.2 149.1,834.0M627.2,40.8 613.5,43.7 599.9,46.9 586.4,50.6 573.0,54.6 559.7,59.0 546.5,63.8 533.5,69.0 520.7,74.5 508.0,80.4 495.4,86.7 483.1,93.3 471.0,100.2 459.0,107.6 447.3,115.2 435.8,123.2 424.5,131.5 413.5,140.2 402.8,149.1 392.2,158.4 382.0,167.9 372.1,177.7 362.4,187.9 353.0,198.3 343.9,208.9 335.2,219.8 326.7,231.0 318.6,242.4 310.8,254.0 303.3,265.9 296.2,277.9 289.4,290.2 283.0,302.6 277.0,315.2 271.3,328.0 266.0,341.0 261.0,354.1 256.4,367.3 252.2,380.7 248.4,394.1 245.0,407.7 235.8,446.6 226.6,485.6 217.4,524.5 208.2,563.4 199.0,602.3 189.8,641.3 180.6,680.2 171.4,719.1 162.2,758.0 153.0,797.0 143.8,835.9M614.2,35.8 600.6,39.0 587.0,42.5 573.6,46.5 560.3,50.8 547.1,55.5 534.1,60.6 521.2,66.0 508.4,71.8 495.8,78.0 483.4,84.5 471.2,91.3 459.2,98.5 447.4,106.1 435.8,113.9 424.5,122.1 413.4,130.6 402.5,139.4 391.9,148.6 381.5,158.0 371.4,167.7 361.6,177.7 352.1,187.9 342.9,198.4 333.9,209.2 325.3,220.3 317.0,231.5 309.0,243.0 301.3,254.7 294.0,266.7 287.0,278.8 280.4,291.1 274.1,303.6 268.2,316.3 262.6,329.2 257.4,342.2 252.6,355.3 248.1,368.6 244.0,381.9 240.3,395.4 237.0,409.0 228.0,448.0 219.1,487.0 210.1,526.0 201.1,565.0 192.2,604.0 183.2,643.0 174.3,681.9 165.3,720.9 156.4,759.9 147.4,798.9 138.5,837.9M601.1,31.0 587.5,34.5 574.1,38.4 560.7,42.7 547.5,47.3 534.4,52.2 521.5,57.6 508.7,63.3 496.1,69.3 483.6,75.8 471.4,82.5 459.3,89.6 447.4,97.0 435.8,104.7 424.3,112.8 413.1,121.2 402.1,129.9 391.4,138.9 380.9,148.2 370.7,157.7 360.8,167.6 351.1,177.7 341.7,188.1 332.6,198.8 323.9,209.7 315.4,220.8 307.2,232.2 299.4,243.8 291.8,255.6 284.7,267.6 277.8,279.8 271.3,292.2 265.1,304.8 259.3,317.5 253.9,330.4 248.8,343.4 244.0,356.6 239.7,369.9 235.7,383.3 232.1,396.9 228.8,410.5 220.1,449.5 211.4,488.6 202.7,527.6 194.0,566.7 185.3,605.7 176.6,644.7 167.9,683.8 159.2,722.8 150.5,761.9 141.8,800.9 133.1,839.9M587.8,26.5 574.4,30.3 561.0,34.5 547.8,39.1 534.7,44.0 521.7,49.2 508.9,54.8 496.2,60.8 483.7,67.1 471.4,73.7 459.2,80.7 447.3,88.0 435.6,95.7 424.0,103.6 412.7,111.9 401.7,120.4 390.8,129.3 380.3,138.5 369.9,147.9 359.9,157.7 350.1,167.7 340.6,177.9 331.3,188.5 322.4,199.2 313.7,210.3 305.4,221.5 297.4,233.0 289.7,244.7 282.3,256.6 275.2,268.7 268.5,280.9 262.1,293.4 256.1,306.0 250.4,318.8 245.1,331.8 240.1,344.8 235.5,358.1 231.2,371.4 227.3,384.8 223.8,398.4 220.7,412.0 212.2,451.1 203.8,490.2 195.3,529.3 186.9,568.4 178.4,607.5 170.0,646.6 161.5,685.7 153.1,724.8 144.6,763.9 136.1,803.0 127.7,842.1M574.5,22.3 561.1,26.4 547.8,30.9 534.7,35.7 521.7,40.9 508.8,46.4 496.1,52.3 483.6,58.5 471.2,65.0 459.0,71.9 447.0,79.1 435.2,86.7 423.6,94.5 412.2,102.7 401.1,111.1 390.2,119.9 379.5,128.9 369.1,138.3 358.9,147.9 349.0,157.8 339.3,167.9 329.9,178.3 320.9,189.0 312.1,199.9 303.6,211.0 295.4,222.3 287.5,233.9 279.9,245.7 272.7,257.7 265.8,269.8 259.2,282.2 252.9,294.7 247.0,307.4 241.5,320.3 236.2,333.2 231.4,346.4 226.9,359.6 222.7,373.0 218.9,386.5 215.5,400.0 212.5,413.7 204.3,452.9 196.1,492.0 187.9,531.2 179.7,570.3 171.5,609.5 163.3,648.6 155.1,687.8 146.9,726.9 138.7,766.1 130.5,805.2 122.3,844.4M561.0,18.3 547.8,22.7 534.6,27.5 521.5,32.6 508.7,38.0 495.9,43.8 483.3,49.9 470.9,56.4 458.7,63.2 446.6,70.3 434.7,77.7 423.1,85.5 411.6,93.5 400.4,101.9 389.4,110.5 378.6,119.5 368.1,128.7 357.8,138.2 347.8,148.0 338.0,158.0 328.5,168.3 319.3,178.8 310.4,189.6 301.7,200.6 293.4,211.8 285.3,223.3 277.6,235.0 270.2,246.8 263.0,258.9 256.3,271.1 249.8,283.6 243.7,296.2 237.9,308.9 232.5,321.8 227.4,334.8 222.6,348.0 218.2,361.3 214.2,374.7 210.5,388.2 207.2,401.8 204.2,415.5 196.2,454.7 188.3,493.9 180.4,533.1 172.4,572.3 164.5,611.5 156.5,650.7 148.6,689.9 140.6,729.1 132.7,768.3 124.8,807.5 116.8,846.7M547.5,14.6 534.3,19.2 521.2,24.3 508.3,29.7 495.5,35.4 482.9,41.4 470.4,47.8 458.2,54.5 446.0,61.5 434.1,68.9 422.4,76.5 410.9,84.5 399.6,92.7 388.5,101.3 377.6,110.1 367.0,119.2 356.6,128.6 346.5,138.3 336.6,148.2 327.0,158.4 317.6,168.8 308.6,179.5 299.8,190.4 291.3,201.5 283.1,212.8 275.2,224.4 267.6,236.2 260.3,248.1 253.3,260.3 246.7,272.6 240.4,285.1 234.4,297.7 228.7,310.5 223.4,323.5 218.4,336.6 213.8,349.8 209.5,363.1 205.6,376.5 202.0,390.1 198.7,403.7 195.9,417.4 188.2,456.6 180.5,495.9 172.8,535.1 165.1,574.4 157.4,613.7 149.8,652.9 142.1,692.2 134.4,731.4 126.7,770.7 119.0,809.9 111.3,849.2M533.8,11.1 520.7,16.0 507.8,21.4 495.0,27.0 482.3,33.0 469.8,39.3 457.5,45.9 445.3,52.9 433.4,60.1 421.6,67.7 410.0,75.5 398.6,83.7 387.4,92.1 376.5,100.9 365.8,109.9 355.3,119.2 345.1,128.7 335.1,138.5 325.4,148.6 315.9,158.9 306.7,169.5 297.8,180.3 289.2,191.3 280.8,202.5 272.8,214.0 265.0,225.6 257.6,237.5 250.4,249.5 243.6,261.7 237.1,274.1 230.9,286.7 225.0,299.4 219.5,312.3 214.3,325.3 209.4,338.4 204.9,351.6 200.7,365.0 196.9,378.5 193.4,392.0 190.3,405.7 187.5,419.4 180.1,458.7 172.7,498.0 165.2,537.3 157.8,576.6 150.4,615.9 142.9,655.2 135.5,694.5 128.1,733.8 120.7,773.1 113.2,812.4 105.8,851.7M520.1,7.8 507.1,13.1 494.3,18.7 481.6,24.6 469.0,30.8 456.7,37.4 444.5,44.2 432.4,51.4 420.6,58.9 408.9,66.6 397.5,74.7 386.3,83.1 375.3,91.7 364.5,100.6 353.9,109.8 343.6,119.3 333.5,129.0 323.7,138.9 314.1,149.2 304.8,159.6 295.7,170.3 287.0,181.2 278.5,192.4 270.3,203.7 262.4,215.3 254.8,227.0 247.5,238.9 240.5,251.1 233.8,263.4 227.4,275.8 221.3,288.4 215.6,301.2 210.2,314.1 205.1,327.2 200.4,340.4 196.0,353.6 191.9,367.0 188.2,380.5 184.8,394.1 181.8,407.8 179.1,421.5 171.9,460.9 164.8,500.2 157.6,539.6 150.4,578.9 143.3,618.3 136.1,657.6 128.9,697.0 121.8,736.3 114.6,775.7 107.4,815.1 100.3,854.4M506.2,4.9 493.4,10.4 480.6,16.2 468.1,22.4 455.7,28.9 443.4,35.7 431.4,42.8 419.5,50.2 407.8,57.8 396.3,65.8 385.0,74.1 373.9,82.6 363.0,91.5 352.4,100.6 342.0,109.9 331.8,119.5 321.9,129.4 312.2,139.5 302.8,149.9 293.6,160.5 284.7,171.3 276.1,182.3 267.8,193.6 259.7,205.0 252.0,216.7 244.5,228.5 237.3,240.5 230.5,252.7 223.9,265.1 217.7,277.7 211.7,290.3 206.1,303.2 200.9,316.1 195.9,329.2 191.3,342.4 187.0,355.8 183.0,369.2 179.4,382.7 176.1,396.3 173.2,410.0 170.6,423.8 163.7,463.2 156.8,502.6 149.9,542.0 143.0,581.4 136.1,620.8 129.2,660.2 122.3,699.6 115.4,739.0 108.5,778.4 101.6,817.8 94.7,857.2M492.3,2.1 479.5,7.9 466.9,14.0 454.5,20.4 442.2,27.2 430.1,34.2 418.2,41.5 406.4,49.1 394.9,57.0 383.5,65.2 372.4,73.7 361.4,82.4 350.7,91.4 340.2,100.7 330.0,110.2 319.9,120.0 310.2,130.0 300.6,140.3 291.4,150.8 282.4,161.5 273.6,172.4 265.2,183.6 257.0,194.9 249.1,206.5 241.5,218.2 234.2,230.2 227.1,242.3 220.4,254.6 214.0,267.0 207.9,279.6 202.1,292.4 196.6,305.2 191.5,318.3 186.6,331.4 182.1,344.7 178.0,358.0 174.1,371.5 170.6,385.0 167.4,398.7 164.6,412.4 162.1,426.2 155.5,465.6 148.8,505.0 142.2,544.5 135.6,583.9 128.9,623.4 122.3,662.8 115.7,702.3 109.0,741.7 102.4,781.2 95.8,820.6 89.1,860.1M478.3,-0.4 465.6,5.7 453.2,12.1 440.9,18.7 428.7,25.7 416.7,32.9 404.9,40.5 393.3,48.3 381.9,56.4 370.7,64.8 359.7,73.5 348.9,82.4 338.4,91.6 328.0,101.0 317.9,110.7 308.0,120.6 298.4,130.8 289.1,141.2 279.9,151.8 271.1,162.7 262.5,173.7 254.2,185.0 246.2,196.5 238.4,208.1 230.9,220.0 223.8,232.0 216.9,244.2 210.3,256.5 204.0,269.0 198.1,281.7 192.4,294.5 187.1,307.5 182.0,320.5 177.3,333.7 172.9,347.0 168.9,360.4 165.2,373.9 161.8,387.5 158.7,401.1 156.0,414.9 153.6,428.7 147.2,468.1 140.8,507.6 134.5,547.1 128.1,586.6 121.7,626.1 115.3,665.6 109.0,705.1 102.6,744.6 96.2,784.1 89.9,823.6 83.5,863.0M464.1,-2.6 451.6,3.7 439.3,10.3 427.1,17.2 415.1,24.4 403.3,31.9 391.6,39.7 380.2,47.7 368.9,56.0 357.8,64.6 347.0,73.4 336.4,82.5 325.9,91.9 315.8,101.5 305.8,111.4 296.1,121.4 286.6,131.8 277.4,142.3 268.5,153.1 259.8,164.0 251.3,175.2 243.2,186.6 235.3,198.1 227.7,209.9 220.4,221.8 213.3,233.9 206.6,246.2 200.2,258.6 194.0,271.2 188.2,284.0 182.7,296.8 177.4,309.8 172.5,322.9 168.0,336.2 163.7,349.5 159.8,362.9 156.1,376.4 152.8,390.1 149.9,403.7 147.3,417.5 145.0,431.3 138.9,470.8 132.8,510.4 126.7,549.9 120.6,589.4 114.5,629.0 108.4,668.5 102.3,708.0 96.2,747.6 90.1,787.1 84.0,826.6 77.9,866.1M450.0,-4.6 437.6,2.0 425.4,8.8 413.3,16.0 401.5,23.4 389.8,31.1 378.3,39.1 366.9,47.3 355.8,55.8 344.9,64.6 334.2,73.6 323.7,82.9 313.5,92.4 303.4,102.2 293.6,112.2 284.1,122.4 274.8,132.9 265.7,143.6 256.9,154.4 248.4,165.5 240.1,176.8 232.1,188.3 224.4,200.0 216.9,211.8 209.7,223.9 202.8,236.0 196.3,248.4 190.0,260.9 184.0,273.5 178.3,286.3 172.9,299.3 167.8,312.3 163.0,325.5 158.6,338.7 154.4,352.1 150.6,365.6 147.1,379.1 143.9,392.8 141.0,406.5 138.5,420.2 136.3,434.1 130.5,473.6 124.7,513.2 118.8,552.8 113.0,592.3 107.2,631.9 101.3,671.5 95.5,711.1 89.7,750.6 83.9,790.2 78.0,829.8 72.2,869.4M436.8,-6.9 424.5,-0.1 412.4,7.0 400.5,14.3 388.8,21.9 377.2,29.8 365.8,38.0 354.6,46.4 343.7,55.1 332.9,64.0 322.3,73.2 312.0,82.6 301.8,92.3 291.9,102.2 282.3,112.3 272.9,122.7 263.7,133.2 254.8,144.0 246.1,155.0 237.7,166.2 229.5,177.6 221.6,189.2 214.0,200.9 206.7,212.8 199.7,224.9 192.9,237.2 186.4,249.6 180.2,262.2 174.4,274.9 168.8,287.7 163.5,300.7 158.5,313.8 153.8,327.0 149.5,340.3 145.4,353.7 141.7,367.1 138.3,380.7 135.2,394.4 132.4,408.1 129.9,421.9 127.8,435.7 122.2,475.3 116.5,514.9 110.9,554.5 105.3,594.1 99.6,633.7 94.0,673.3 88.3,712.9 82.7,752.5 77.1,792.1 71.4,831.7 65.8,871.3"/>
<filter id="blur" x="-0.2" y="-0.2" width="1.4" height="1.4"><feGaussianBlur stdDeviation="14"/></filter>
<filter id="blur2" x="-0.2" y="-0.2" width="1.4" height="1.4"><feGaussianBlur stdDeviation="2.2"/></filter>
<clipPath id="clip1"><polygon points="420.0,23.0 593.0,289.0 591.0,290.5 578.2,301.4 556.8,322.8 535.4,352.7 514.0,391.2 492.7,438.2 475.6,476.7 458.5,523.7 441.4,557.9 428.6,575.0 420.0,583.2 400.4,601.0 371.9,631.3 350.5,647.4 334.4,652.7 304.1,651.0 284.5,645.6 266.7,640.2 248.8,633.1 225.7,611.7 204.3,593.0 199.7,588.0 190.5,535.5 185.6,508.0 185.2,471.6 188.2,440.0 208.8,380.4 224.7,325.6 238.6,300.0 259.0,244.0 281.3,203.2 303.5,166.0 329.5,121.6 355.5,84.5 383.0,45.0"/></clipPath>
<filter id="pal1" filterUnits="userSpaceOnUse" x="150" y="0" width="470" height="670" color-interpolation-filters="sRGB">
<feColorMatrix in="SourceGraphic" type="matrix" values="1 1.0 0 0 -0.5019607843137255 1 1.0 0 0 -0.5019607843137255 1 1.0 0 0 -0.5019607843137255 0 0 0 0 1" result="src"/>
<feTurbulence type="fractalNoise" baseFrequency="0.5" numOctaves="2" seed="3" result="n"/>
<feColorMatrix in="n" type="matrix" values="1 0 0 0 0 1 0 0 0 0 1 0 0 0 0 0 0 0 0 1" result="nn"/>
<feComposite in="src" in2="nn" operator="arithmetic" k1="0" k2="1" k3="1.3" k4="-0.65" result="v0"/>
<feTurbulence type="fractalNoise" baseFrequency="0.2" numOctaves="2" seed="14" result="m"/>
<feColorMatrix in="m" type="matrix" values="1 0 0 0 0 1 0 0 0 0 1 0 0 0 0 0 0 0 0 1" result="mm"/>
<feComposite in="v0" in2="mm" operator="arithmetic" k1="0" k2="1" k3="0.4" k4="-0.2" result="v"/>
<feConvolveMatrix in="v" order="3" kernelMatrix="1 2 1 2 6 2 1 2 1" edgeMode="duplicate" result="vb"/>
<feComponentTransfer in="vb" result="c"><feFuncR type="table" tableValues="0.843 0.857 0.872 0.886 0.901 0.915 0.929 0.941 0.941 0.941 0.941 0.952 0.964 0.975 0.987 0.996 0.997 0.998 0.998 0.999 1.000 0.954 0.908 0.863 0.817 0.768 0.710 0.653 0.595 0.537 0.502 0.502 0.502 0.502 0.502 0.502 0.502 0.419 0.336 0.252 0.169"/><feFuncG type="table" tableValues="0.098 0.155 0.212 0.269 0.326 0.383 0.440 0.486 0.486 0.486 0.486 0.549 0.612 0.675 0.738 0.796 0.837 0.878 0.918 0.959 1.000 0.981 0.963 0.944 0.925 0.903 0.870 0.836 0.803 0.769 0.749 0.749 0.749 0.749 0.749 0.749 0.749 0.690 0.632 0.573 0.514"/><feFuncB type="table" tableValues="0.110 0.136 0.163 0.189 0.216 0.242 0.269 0.290 0.290 0.290 0.290 0.334 0.378 0.422 0.467 0.511 0.559 0.607 0.654 0.702 0.749 0.734 0.719 0.705 0.690 0.678 0.676 0.675 0.673 0.672 0.671 0.671 0.671 0.671 0.671 0.671 0.671 0.685 0.700 0.715 0.729"/></feComponentTransfer>
<feConvolveMatrix in="c" order="3" kernelMatrix="1 2 1 2 8 2 1 2 1" edgeMode="duplicate"/>
</filter>
<clipPath id="clip2"><polygon points="420.0,23.0 593.0,289.0 591.0,290.5 578.2,301.4 556.8,322.8 535.4,352.7 514.0,391.2 492.7,438.2 475.6,476.7 458.5,523.7 441.4,557.9 428.6,575.0 420.0,583.2 400.4,601.0 371.9,631.3 350.5,647.4 334.4,652.7 304.1,651.0 284.5,645.6 266.7,640.2 248.8,633.1 225.7,611.7 204.3,593.0 199.7,588.0 190.5,535.5 185.6,508.0 185.2,471.6 188.2,440.0 208.8,380.4 224.7,325.6 238.6,300.0 259.0,244.0 281.3,203.2 303.5,166.0 329.5,121.6 355.5,84.5 383.0,45.0"/></clipPath>
<filter id="pal2" filterUnits="userSpaceOnUse" x="150" y="0" width="470" height="670" color-interpolation-filters="sRGB">
<feColorMatrix in="SourceGraphic" type="matrix" values="1 1.0 0 0 -0.5019607843137255 1 1.0 0 0 -0.5019607843137255 1 1.0 0 0 -0.5019607843137255 0 0 0 0 1" result="src"/>
<feTurbulence type="fractalNoise" baseFrequency="0.5" numOctaves="2" seed="7" result="n"/>
<feColorMatrix in="n" type="matrix" values="1 0 0 0 0 1 0 0 0 0 1 0 0 0 0 0 0 0 0 1" result="nn"/>
<feComposite in="src" in2="nn" operator="arithmetic" k1="0" k2="1" k3="1.3" k4="-0.65" result="v0"/>
<feTurbulence type="fractalNoise" baseFrequency="0.2" numOctaves="2" seed="18" result="m"/>
<feColorMatrix in="m" type="matrix" values="1 0 0 0 0 1 0 0 0 0 1 0 0 0 0 0 0 0 0 1" result="mm"/>
<feComposite in="v0" in2="mm" operator="arithmetic" k1="0" k2="1" k3="0.4" k4="-0.2" result="v"/>
<feConvolveMatrix in="v" order="3" kernelMatrix="1 2 1 2 6 2 1 2 1" edgeMode="duplicate" result="vb"/>
<feComponentTransfer in="vb" result="c"><feFuncR type="table" tableValues="0.843 0.857 0.872 0.886 0.901 0.915 0.929 0.941 0.941 0.941 0.941 0.952 0.964 0.975 0.987 0.996 0.997 0.998 0.998 0.999 1.000 0.954 0.908 0.863 0.817 0.768 0.710 0.653 0.595 0.537 0.502 0.502 0.502 0.502 0.502 0.502 0.502 0.419 0.336 0.252 0.169"/><feFuncG type="table" tableValues="0.098 0.155 0.212 0.269 0.326 0.383 0.440 0.486 0.486 0.486 0.486 0.549 0.612 0.675 0.738 0.796 0.837 0.878 0.918 0.959 1.000 0.981 0.963 0.944 0.925 0.903 0.870 0.836 0.803 0.769 0.749 0.749 0.749 0.749 0.749 0.749 0.749 0.690 0.632 0.573 0.514"/><feFuncB type="table" tableValues="0.110 0.136 0.163 0.189 0.216 0.242 0.269 0.290 0.290 0.290 0.290 0.334 0.378 0.422 0.467 0.511 0.559 0.607 0.654 0.702 0.749 0.734 0.719 0.705 0.690 0.678 0.676 0.675 0.673 0.672 0.671 0.671 0.671 0.671 0.671 0.671 0.671 0.685 0.700 0.715 0.729"/></feComponentTransfer>
<feConvolveMatrix in="c" order="3" kernelMatrix="1 2 1 2 8 2 1 2 1" edgeMode="duplicate"/>
</filter>
</defs>
<rect width="1458" height="701" fill="#fff"/>
<g transform="translate(0,0)">
<rect x="36" y="13.5" width="581.5" height="650.5" fill="none" stroke="#5a5a5a" stroke-width="1.6"/>
<g clip-path="url(#clip1)">
<g filter="url(#pal1)">
<rect x="150" y="0" width="470" height="670" fill="rgb(136,0,0)"/>
<g filter="url(#blur)">
<ellipse cx="405" cy="45" rx="30" ry="22" transform="rotate(146.4 405 45)" fill="rgb(141,0,0)" fill-opacity="1"/>
<path d="M345.0 100.0 L343.6 102.6 L342.2 105.3 L340.9 107.9 L339.5 110.6 L338.1 113.2 L336.8 115.9 L335.5 118.6 L334.1 121.3 L332.8 124.1 L331.5 126.8 L330.2 129.5 L328.9 132.3 L327.6 135.0 L326.4 137.8 L325.1 140.6 L323.8 143.4 L322.6 146.2 L321.4 149.0 L320.1 151.9 L318.9 154.7 L317.7 157.6 L316.5 160.5 L315.3 163.4 L314.2 166.2 L313.0 169.2 L311.9 172.1 L310.7 175.0 L309.6 178.0 L308.5 180.9 L307.4 183.9 L306.3 186.9 L305.2 189.9 L304.1 192.9 L303.1 195.9 L302.0 198.9 L301.0 201.9 L300.0 205.0" fill="none" stroke="rgb(184,0,0)" stroke-width="34" stroke-linecap="round" stroke-opacity="1"/>
<path d="M295.0 205.0 L292.7 208.2 L290.4 211.4 L288.2 214.6 L286.0 217.8 L283.8 221.1 L281.6 224.3 L279.4 227.6 L277.3 230.9 L275.2 234.2 L273.1 237.6 L271.1 240.9 L269.0 244.3 L267.0 247.7 L265.0 251.0 L263.1 254.5 L261.2 257.9 L259.2 261.3 L257.4 264.8 L255.5 268.2 L253.7 271.7 L251.9 275.2 L250.1 278.7 L248.4 282.2 L246.6 285.7 L244.9 289.3 L243.3 292.8 L241.6 296.4 L240.0 300.0" fill="none" stroke="rgb(154,0,0)" stroke-width="30" stroke-linecap="round" stroke-opacity="1"/>
<ellipse cx="405" cy="150" rx="75" ry="38" transform="rotate(139.6 405 150)" fill="rgb(93,0,0)" fill-opacity="1"/>
<ellipse cx="465" cy="125" rx="32" ry="22" transform="rotate(147.2 465 125)" fill="rgb(97,0,0)" fill-opacity="1"/>
<ellipse cx="380" cy="175" rx="40" ry="20" transform="rotate(135.4 380 175)" fill="rgb(97,0,0)" fill-opacity="1"/>
<ellipse cx="370" cy="250" rx="80" ry="50" transform="rotate(127.6 370 250)" fill="rgb(114,0,0)" fill-opacity="1"/>
<ellipse cx="470" cy="210" rx="40" ry="30" transform="rotate(141.1 470 210)" fill="rgb(110,0,0)" fill-opacity="1"/>
<ellipse cx="520" cy="300" rx="70" ry="35" transform="rotate(137.7 520 300)" fill="rgb(162,0,0)" fill-opacity="1"/>
<ellipse cx="470" cy="380" rx="80" ry="40" transform="rotate(119.2 470 380)" fill="rgb(158,0,0)" fill-opacity="1"/>
<ellipse cx="460" cy="480" rx="70" ry="40" transform="rotate(114.7 460 480)" fill="rgb(154,0,0)" fill-opacity="1"/>
<ellipse cx="255" cy="385" rx="60" ry="40" transform="rotate(106.2 255 385)" fill="rgb(106,0,0)" fill-opacity="1"/>
<ellipse cx="205" cy="520" rx="60" ry="18" transform="rotate(102.6 205 520)" fill="rgb(154,0,0)" fill-opacity="1"/>
<ellipse cx="350" cy="420" rx="60" ry="30" transform="rotate(108.4 350 420)" fill="rgb(141,0,0)" fill-opacity="1"/>
<ellipse cx="330" cy="510" rx="30" ry="18" transform="rotate(108.9 330 510)" fill="rgb(162,0,0)" fill-opacity="1"/>
<polygon points="282,538 328,538 338,600 326,650 250,642 256,600" fill="rgb(71,0,0)" fill-opacity="1"/>
<path d="M300.0 585.0 L299.1 588.8 L298.2 592.5 L297.2 596.3 L296.3 600.0 L295.4 603.8 L294.5 607.5 L293.5 611.3 L292.6 615.0 L291.6 618.8 L290.7 622.5 L289.8 626.3 L288.8 630.0 L287.9 633.8 L286.9 637.5 L286.0 641.3 L285.0 645.0" fill="none" stroke="rgb(49,0,0)" stroke-width="25" stroke-linecap="round" stroke-opacity="1"/>
<ellipse cx="385" cy="590" rx="50" ry="30" transform="rotate(113.4 385 590)" fill="rgb(154,0,0)" fill-opacity="1"/>
<ellipse cx="235" cy="610" rx="20" ry="20" transform="rotate(105.5 235 610)" fill="rgb(114,0,0)" fill-opacity="1"/>
</g>
<g style="mix-blend-mode:lighten">
<rect x="150" y="0" width="470" height="670" fill="rgb(0,128,0)"/>
<use href="#sd0" fill="none" stroke="rgb(0,0,0)" stroke-width="2.57" stroke-opacity="0.52"/><use href="#sd1" fill="none" stroke="rgb(0,0,0)" stroke-width="2.84" stroke-opacity="0.52"/><use href="#sd2" fill="none" stroke="rgb(0,0,0)" stroke-width="3.16" stroke-opacity="0.52"/>
<use href="#sl0" fill="none" stroke="rgb(0,255,0)" stroke-width="1.71" stroke-opacity="0.6"/><use href="#sl1" fill="none" stroke="rgb(0,255,0)" stroke-width="1.89" stroke-opacity="0.6"/><use href="#sl2" fill="none" stroke="rgb(0,255,0)" stroke-width="2.11" stroke-opacity="0.6"/>
</g>
<g filter="url(#blur2)">
<polygon points="326,116 345,108 342,140 330,172 316,200 298,200 308,160" fill="rgb(219,128,0)" fill-opacity="0.8"/>
<polygon points="300,405 309,410 311,422 305,432 296,430 294,418" fill="rgb(20,128,0)" fill-opacity="0.85"/>
<ellipse cx="306" cy="444" rx="10" ry="8" transform="rotate(106.7 306 444)" fill="rgb(217,128,0)" fill-opacity="0.5"/>
<polygon points="298,465 312,460 325,465 324,478 310,482 298,478" fill="rgb(20,128,0)" fill-opacity="0.85"/>
<ellipse cx="344" cy="452" rx="9" ry="5" transform="rotate(108.6 344 452)" fill="rgb(36,128,0)" fill-opacity="0.6"/>
<ellipse cx="200" cy="467" rx="6" ry="5" transform="rotate(101.8 200 467)" fill="rgb(36,128,0)" fill-opacity="0.6"/>
<path d="M364.0 511.0 L363.1 514.6 L362.3 518.1 L361.4 521.7 L360.6 525.3 L359.7 528.8 L358.8 532.4 L358.0 536.0 L357.1 539.5 L356.2 543.1 L355.3 546.6 L354.5 550.2 L353.6 553.8 L352.7 557.3 L351.8 560.9 L350.9 564.4 L350.0 568.0" fill="none" stroke="rgb(46,128,0)" stroke-width="7" stroke-linecap="round" stroke-opacity="0.45"/>
<path d="M300.0 560.0 L299.1 563.7 L298.2 567.3 L297.3 571.0 L296.4 574.7 L295.5 578.4 L294.6 582.0 L293.7 585.7 L292.8 589.4 L291.9 593.0 L291.0 596.7 L290.1 600.4 L289.2 604.0 L288.2 607.7 L287.3 611.4 L286.4 615.0 L285.5 618.7 L284.5 622.4 L283.6 626.0 L282.7 629.7 L281.8 633.4 L280.8 637.0 L279.9 640.7 L278.9 644.3 L278.0 648.0" fill="none" stroke="rgb(15,128,0)" stroke-width="14" stroke-linecap="round" stroke-opacity="0.6"/>
<path d="M272.0 600.0 L270.4 603.6 L268.9 607.3 L267.3 610.9 L265.8 614.5 L264.2 618.2 L262.7 621.8 L261.1 625.4 L259.6 629.1 L258.1 632.7 L256.5 636.4 L255.0 640.0" fill="none" stroke="rgb(26,128,0)" stroke-width="12" stroke-linecap="round" stroke-opacity="0.5"/>
<path d="M326.0 560.0 L325.2 563.7 L324.4 567.4 L323.6 571.0 L322.8 574.7 L322.0 578.4 L321.2 582.0 L320.4 585.7 L319.6 589.4 L318.7 593.1 L317.9 596.7 L317.1 600.4 L316.3 604.1 L315.4 607.7 L314.6 611.4 L313.7 615.1 L312.9 618.7 L312.0 622.4 L311.2 626.0 L310.3 629.7 L309.5 633.4 L308.6 637.0 L307.7 640.7 L306.9 644.3 L306.0 648.0" fill="none" stroke="rgb(20,128,0)" stroke-width="12" stroke-linecap="round" stroke-opacity="0.55"/>
<path d="M315.0 540.0 L314.1 543.8 L313.2 547.5 L312.2 551.3 L311.3 555.0 L310.4 558.8 L309.4 562.5 L308.5 566.3 L307.6 570.0 L306.6 573.8 L305.7 577.5 L304.8 581.3 L303.8 585.0 L302.9 588.8 L301.9 592.5 L301.0 596.3 L300.0 600.0" fill="none" stroke="rgb(26,128,0)" stroke-width="10" stroke-linecap="round" stroke-opacity="0.5"/>
</g>
</g></g>
<line x1="201" y1="590.5" x2="524" y2="184" stroke="#111" stroke-width="2.2"/>
<text x="457" y="76.5" font-size="28">A</text>
<text x="556.5" y="227.5" font-size="28">B</text>
<text x="56.5" y="690.5" font-size="24">507881</text>
<text x="286" y="690.5" font-size="24">507991</text>
<text x="515.5" y="690.5" font-size="24">508101</text>
<text x="0" y="0" font-size="24" text-anchor="middle" transform="translate(27.8,104.5) rotate(-90)">7676850</text>
<text x="0" y="0" font-size="24" text-anchor="middle" transform="translate(27.8,312.5) rotate(-90)">7676750</text>
<text x="0" y="0" font-size="24" text-anchor="middle" transform="translate(27.8,521.5) rotate(-90)">7676650</text>
<circle cx="128" cy="542" r="17.5" fill="#fff" stroke="#000" stroke-width="2.6"/>
<circle cx="128" cy="542" r="14.3" fill="none" stroke="#999" stroke-width="0.9"/>
<polygon points="128,514.5 110.3,559.4 128,542.5" fill="#d2d2d2"/>
<polygon points="128,514.5 145.7,559.4 128,542.5" fill="#fff"/>
<polygon points="128,514.5 110.3,559.4 128,542.5 145.7,559.4" fill="none" stroke="#000" stroke-width="2.3"/>
<text x="90.8" y="586" font-size="14.5">0</text>
<text x="108.8" y="586" font-size="14.5">10</text>
<text x="129.2" y="586" font-size="14.5">20</text>
<text x="150" y="586" font-size="14.5">30 m</text>
<rect x="94.5" y="595" width="63" height="10" fill="#000"/>
<rect x="116.2" y="596.2" width="20" height="7.6" fill="#fff"/>
</g>
<text x="634.5" y="314.5" font-size="21" letter-spacing="1.2">NDVI</text>
<rect x="634.5" y="324.0" width="23.5" height="12.8" fill="#d7191c"/>
<text x="664" y="337.8" font-size="21">0.02</text>
<rect x="634.5" y="346.8" width="23.5" height="12.8" fill="#f07c4a"/>
<text x="664" y="360.6" font-size="21">0.19</text>
<rect x="634.5" y="369.6" width="23.5" height="12.8" fill="#fec980"/>
<text x="664" y="383.4" font-size="21">0.23</text>
<rect x="634.5" y="392.4" width="23.5" height="12.8" fill="#ffffbf"/>
<text x="664" y="406.2" font-size="21">0.26</text>
<rect x="634.5" y="415.2" width="23.5" height="12.8" fill="#c7e8ad"/>
<text x="664" y="429.0" font-size="21">0.30</text>
<rect x="634.5" y="438.0" width="23.5" height="12.8" fill="#80bfab"/>
<text x="664" y="451.8" font-size="21">0.36</text>
<rect x="634.5" y="460.8" width="23.5" height="12.8" fill="#2b83ba"/>
<text x="664" y="474.6" font-size="21">0.76</text>
<g transform="translate(763,0)">
<rect x="36" y="13.5" width="581.5" height="650.5" fill="none" stroke="#5a5a5a" stroke-width="1.6"/>
<g clip-path="url(#clip2)">
<g filter="url(#pal2)">
<rect x="150" y="0" width="470" height="670" fill="rgb(133,0,0)"/>
<g filter="url(#blur)">
<ellipse cx="405" cy="45" rx="30" ry="22" transform="rotate(146.4 405 45)" fill="rgb(128,0,0)" fill-opacity="1"/>
<ellipse cx="420" cy="140" rx="70" ry="40" transform="rotate(141.7 420 140)" fill="rgb(97,0,0)" fill-opacity="1"/>
<ellipse cx="280" cy="270" rx="60" ry="30" transform="rotate(119.6 280 270)" fill="rgb(102,0,0)" fill-opacity="1"/>
<path d="M380.0 300.0 L378.7 303.2 L377.4 306.4 L376.1 309.7 L374.8 312.9 L373.6 316.2 L372.4 319.5 L371.2 322.8 L370.1 326.1 L368.9 329.4 L367.8 332.7 L366.8 336.1 L365.7 339.5 L364.7 342.9 L363.7 346.3 L362.7 349.7 L361.8 353.1 L360.9 356.5 L360.0 360.0" fill="none" stroke="rgb(178,0,0)" stroke-width="30" stroke-linecap="round" stroke-opacity="1"/>
<ellipse cx="528" cy="263" rx="45" ry="25" transform="rotate(143.2 528 263)" fill="rgb(204,0,0)" fill-opacity="1"/>
<ellipse cx="477" cy="353" rx="45" ry="30" transform="rotate(124.5 477 353)" fill="rgb(199,0,0)" fill-opacity="1"/>
<ellipse cx="500" cy="300" rx="25" ry="15" transform="rotate(135.0 500 300)" fill="rgb(107,0,0)" fill-opacity="1"/>
<ellipse cx="560" cy="290" rx="20" ry="15" transform="rotate(145.2 560 290)" fill="rgb(92,0,0)" fill-opacity="1"/>
<ellipse cx="470" cy="420" rx="60" ry="30" transform="rotate(113.9 470 420)" fill="rgb(178,0,0)" fill-opacity="1"/>
<ellipse cx="448" cy="520" rx="60" ry="25" transform="rotate(115.0 448 520)" fill="rgb(199,0,0)" fill-opacity="1"/>
<ellipse cx="400" cy="450" rx="50" ry="25" transform="rotate(111.2 400 450)" fill="rgb(140,0,0)" fill-opacity="1"/>
<path d="M545.0 335.0 L542.4 337.8 L539.9 340.7 L537.5 343.6 L535.0 346.5 L532.6 349.5 L530.3 352.5 L528.0 355.6 L525.7 358.7 L523.5 361.8 L521.3 364.9 L519.2 368.1 L517.1 371.4 L515.1 374.7 L513.1 378.0 L511.2 381.3 L509.3 384.7 L507.5 388.1 L505.7 391.5 L503.9 395.0 L502.2 398.5 L500.6 402.0 L499.0 405.6 L497.5 409.1 L496.0 412.7 L494.6 416.4 L493.2 420.0 L491.8 423.7 L490.4 427.3 L489.0 430.9 L487.6 434.6 L486.2 438.2 L484.8 441.9 L483.4 445.5 L482.0 449.1 L480.5 452.8 L479.1 456.4 L477.7 460.0 L476.3 463.7 L474.9 467.3 L473.4 471.0 L472.0 474.6 L470.6 478.2 L469.2 481.9 L467.7 485.5 L466.3 489.1 L464.9 492.7 L463.4 496.4 L462.0 500.0" fill="none" stroke="rgb(102,0,0)" stroke-width="22" stroke-linecap="round" stroke-opacity="1"/>
<ellipse cx="405" cy="595" rx="40" ry="25" transform="rotate(114.5 405 595)" fill="rgb(204,0,0)" fill-opacity="1"/>
<ellipse cx="305" cy="645" rx="60" ry="14" transform="rotate(12 305 645)" fill="rgb(204,0,0)" fill-opacity="1"/>
<path d="M328.0 484.0 L325.9 487.7 L323.9 491.5 L321.8 495.2 L319.7 499.0 L317.7 502.7 L315.7 506.5 L313.6 510.2 L311.6 514.0 L309.6 517.7 L307.5 521.5 L305.5 525.3 L303.5 529.0 L301.5 532.8 L299.5 536.6 L297.5 540.3 L295.5 544.1 L293.5 547.9 L291.5 551.7 L289.6 555.5 L287.6 559.3 L285.6 563.1 L283.7 566.9 L281.7 570.7 L279.7 574.5 L277.8 578.3 L275.9 582.1 L273.9 585.9 L272.0 589.7 L270.1 593.5 L268.2 597.3 L266.2 601.2 L264.3 605.0 L262.4 608.8 L260.5 612.6 L258.6 616.5 L256.8 620.3 L254.9 624.2 L253.0 628.0" fill="none" stroke="rgb(61,0,0)" stroke-width="26" stroke-linecap="round" stroke-opacity="1"/>
<path d="M353.0 525.0 L351.6 528.7 L350.2 532.4 L348.8 536.1 L347.4 539.8 L345.9 543.5 L344.5 547.2 L343.1 550.9 L341.7 554.6 L340.3 558.3 L338.9 562.0 L337.5 565.7 L336.1 569.4 L334.7 573.1 L333.3 576.8 L331.9 580.5 L330.5 584.3 L329.1 588.0 L327.6 591.7 L326.2 595.4 L324.8 599.1 L323.4 602.8 L322.0 606.5 L320.6 610.2 L319.2 613.9 L317.8 617.6 L316.4 621.3 L315.0 625.0" fill="none" stroke="rgb(71,0,0)" stroke-width="16" stroke-linecap="round" stroke-opacity="1"/>
<path d="M305.0 560.0 L304.1 563.6 L303.2 567.3 L302.3 570.9 L301.4 574.6 L300.6 578.2 L299.7 581.8 L298.8 585.5 L297.9 589.1 L297.0 592.8 L296.0 596.4 L295.1 600.0 L294.2 603.7 L293.3 607.3 L292.4 610.9 L291.5 614.6 L290.6 618.2 L289.6 621.8 L288.7 625.5 L287.8 629.1 L286.9 632.7 L285.9 636.4 L285.0 640.0" fill="none" stroke="rgb(189,0,0)" stroke-width="12" stroke-linecap="round" stroke-opacity="1"/>
<ellipse cx="255" cy="390" rx="60" ry="50" transform="rotate(105.6 255 390)" fill="rgb(112,0,0)" fill-opacity="1"/>
<ellipse cx="205" cy="520" rx="60" ry="20" transform="rotate(102.6 205 520)" fill="rgb(143,0,0)" fill-opacity="1"/>
<ellipse cx="340" cy="365" rx="40" ry="25" transform="rotate(112.2 340 365)" fill="rgb(122,0,0)" fill-opacity="1"/>
<ellipse cx="400" cy="295" rx="35" ry="28" transform="rotate(125.1 400 295)" fill="rgb(173,0,0)" fill-opacity="1"/>
</g>
<g style="mix-blend-mode:lighten">
<rect x="150" y="0" width="470" height="670" fill="rgb(0,128,0)"/>
<use href="#sd0" fill="none" stroke="rgb(0,0,0)" stroke-width="2.57" stroke-opacity="0.442"/><use href="#sd1" fill="none" stroke="rgb(0,0,0)" stroke-width="2.84" stroke-opacity="0.442"/><use href="#sd2" fill="none" stroke="rgb(0,0,0)" stroke-width="3.16" stroke-opacity="0.442"/>
<use href="#sl0" fill="none" stroke="rgb(0,255,0)" stroke-width="1.71" stroke-opacity="0.51"/><use href="#sl1" fill="none" stroke="rgb(0,255,0)" stroke-width="1.89" stroke-opacity="0.51"/><use href="#sl2" fill="none" stroke="rgb(0,255,0)" stroke-width="2.11" stroke-opacity="0.51"/>
</g>
<g filter="url(#blur2)">
<polygon points="320,141 357,141 335,175 310,226 288,226 300,190" fill="rgb(214,128,0)" fill-opacity="0.8"/>
<ellipse cx="347" cy="107" rx="10" ry="8" transform="rotate(137.9 347 107)" fill="rgb(209,128,0)" fill-opacity="0.7"/>
<ellipse cx="344" cy="130" rx="14" ry="9" transform="rotate(136.0 344 130)" fill="rgb(31,128,0)" fill-opacity="0.7"/>
<ellipse cx="365" cy="168" rx="15" ry="12" transform="rotate(134.8 365 168)" fill="rgb(31,128,0)" fill-opacity="0.7"/>
<ellipse cx="420" cy="221" rx="16" ry="10" transform="rotate(134.9 420 221)" fill="rgb(36,128,0)" fill-opacity="0.65"/>
<ellipse cx="472" cy="163" rx="16" ry="10" transform="rotate(145.2 472 163)" fill="rgb(41,128,0)" fill-opacity="0.6"/>
<ellipse cx="314" cy="250" rx="10" ry="8" transform="rotate(123.6 314 250)" fill="rgb(38,128,0)" fill-opacity="0.55"/>
<ellipse cx="291" cy="302" rx="10" ry="8" transform="rotate(116.9 291 302)" fill="rgb(38,128,0)" fill-opacity="0.55"/>
<ellipse cx="312" cy="291" rx="10" ry="9" transform="rotate(119.3 312 291)" fill="rgb(204,128,0)" fill-opacity="0.5"/>
<ellipse cx="386" cy="202" rx="20" ry="12" transform="rotate(133.6 386 202)" fill="rgb(184,128,0)" fill-opacity="0.4"/>
<ellipse cx="302" cy="416" rx="12" ry="8" transform="rotate(106.1 302 416)" fill="rgb(26,128,0)" fill-opacity="0.8"/>
<ellipse cx="342" cy="450" rx="14" ry="6" transform="rotate(108.5 342 450)" fill="rgb(31,128,0)" fill-opacity="0.7"/>
<ellipse cx="312" cy="457" rx="10" ry="8" transform="rotate(107.1 312 457)" fill="rgb(209,128,0)" fill-opacity="0.5"/>
<ellipse cx="200" cy="467" rx="8" ry="5" transform="rotate(101.8 200 467)" fill="rgb(31,128,0)" fill-opacity="0.6"/>
<path d="M322.0 493.0 L319.8 496.8 L317.6 500.5 L315.4 504.3 L313.2 508.0 L311.0 511.8 L308.8 515.6 L306.6 519.4 L304.5 523.2 L302.3 526.9 L300.1 530.7 L298.0 534.5 L295.8 538.3 L293.7 542.1 L291.6 545.9 L289.4 549.7 L287.3 553.5 L285.2 557.4 L283.1 561.2 L281.0 565.0" fill="none" stroke="rgb(26,128,0)" stroke-width="16" stroke-linecap="round" stroke-opacity="0.6"/>
<path d="M283.0 560.0 L281.3 563.8 L279.7 567.6 L278.0 571.4 L276.3 575.3 L274.7 579.1 L273.0 582.9 L271.4 586.7 L269.7 590.5 L268.1 594.4 L266.4 598.2 L264.8 602.0 L263.1 605.8 L261.5 609.7 L259.9 613.5 L258.2 617.3 L256.6 621.2 L255.0 625.0" fill="none" stroke="rgb(31,128,0)" stroke-width="14" stroke-linecap="round" stroke-opacity="0.55"/>
<path d="M345.0 550.0 L343.3 553.7 L341.6 557.3 L340.0 561.0 L338.3 564.6 L336.6 568.3 L334.9 572.0 L333.3 575.6 L331.6 579.3 L329.9 583.0 L328.2 586.6 L326.6 590.3 L324.9 594.0 L323.3 597.6 L321.6 601.3 L320.0 605.0 L318.3 608.7 L316.6 612.3 L315.0 616.0" fill="none" stroke="rgb(26,128,0)" stroke-width="10" stroke-linecap="round" stroke-opacity="0.55"/>
<path d="M347.0 440.0 L345.5 443.6 L344.1 447.2 L342.6 450.8 L341.1 454.5 L339.7 458.1 L338.2 461.7 L336.7 465.3 L335.3 468.9 L333.8 472.5 L332.4 476.1 L330.9 479.8 L329.5 483.4 L328.0 487.0" fill="none" stroke="rgb(51,128,0)" stroke-width="8" stroke-linecap="round" stroke-opacity="0.5"/>
</g>
</g></g>
<line x1="201" y1="590.5" x2="524" y2="184" stroke="#111" stroke-width="2.2"/>
<text x="457" y="76.5" font-size="28">A</text>
<text x="556.5" y="227.5" font-size="28">B</text>
<text x="56.5" y="690.5" font-size="24">507881</text>
<text x="286" y="690.5" font-size="24">507991</text>
<text x="515.5" y="690.5" font-size="24">508101</text>
<text x="0" y="0" font-size="24" text-anchor="middle" transform="translate(27.8,104.5) rotate(-90)">7676850</text>
<text x="0" y="0" font-size="24" text-anchor="middle" transform="translate(27.8,312.5) rotate(-90)">7676750</text>
<text x="0" y="0" font-size="24" text-anchor="middle" transform="translate(27.8,521.5) rotate(-90)">7676650</text>
<circle cx="128" cy="542" r="17.5" fill="#fff" stroke="#000" stroke-width="2.6"/>
<circle cx="128" cy="542" r="14.3" fill="none" stroke="#999" stroke-width="0.9"/>
<polygon points="128,514.5 110.3,559.4 128,542.5" fill="#d2d2d2"/>
<polygon points="128,514.5 145.7,559.4 128,542.5" fill="#fff"/>
<polygon points="128,514.5 110.3,559.4 128,542.5 145.7,559.4" fill="none" stroke="#000" stroke-width="2.3"/>
<text x="90.8" y="586" font-size="14.5">0</text>
<text x="108.8" y="586" font-size="14.5">10</text>
<text x="129.2" y="586" font-size="14.5">20</text>
<text x="150" y="586" font-size="14.5">30 m</text>
<rect x="94.5" y="595" width="63" height="10" fill="#000"/>
<rect x="116.2" y="596.2" width="20" height="7.6" fill="#fff"/>
</g>
<text x="1388" y="286" font-size="21" letter-spacing="1">NDRE</text>
<rect x="1388" y="293.8" width="20" height="19.6" fill="#d7191c"/>
<text x="1414" y="311.3" font-size="21">-0.1</text>
<rect x="1388" y="321.9" width="20" height="19.6" fill="#f07c4a"/>
<text x="1414" y="339.4" font-size="21">0.08</text>
<rect x="1388" y="350.1" width="20" height="19.6" fill="#fec980"/>
<text x="1414" y="367.6" font-size="21">0.09</text>
<rect x="1388" y="378.2" width="20" height="19.6" fill="#ffffbf"/>
<text x="1414" y="395.8" font-size="21">0.11</text>
<rect x="1388" y="406.4" width="20" height="19.6" fill="#c7e8ad"/>
<text x="1414" y="423.9" font-size="21">0.12</text>
<rect x="1388" y="434.6" width="20" height="19.6" fill="#80bfab"/>
<text x="1414" y="452.1" font-size="21">0.14</text>
<rect x="1388" y="462.7" width="20" height="19.6" fill="#2b83ba"/>
<text x="1414" y="480.2" font-size="21">0.37</text>
</svg>
</body></html>
